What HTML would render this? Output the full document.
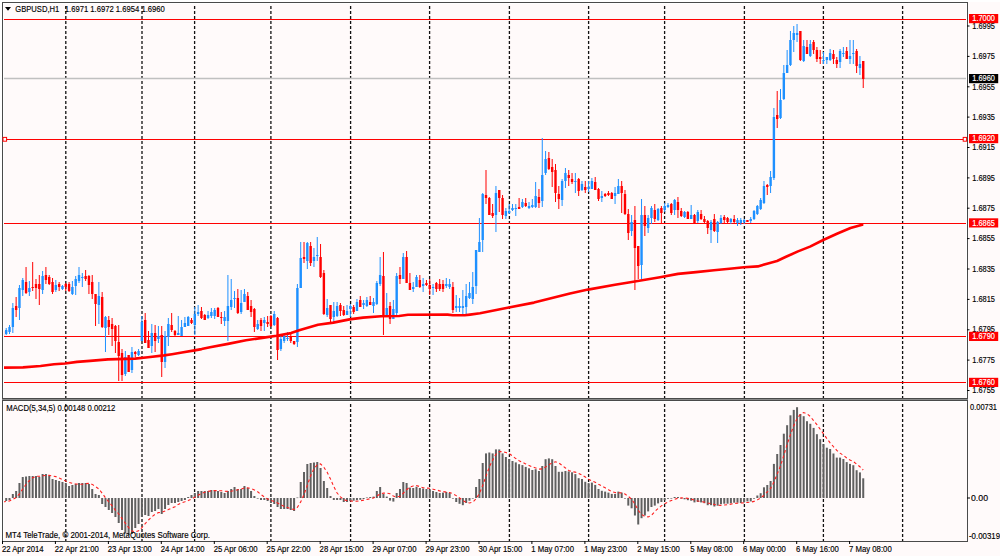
<!DOCTYPE html><html><head><meta charset="utf-8"><style>
html,body{margin:0;padding:0;width:1000px;height:556px;overflow:hidden;background:#fff}
svg{display:block}
text{font-family:"Liberation Sans",sans-serif;font-size:8.5px;fill:#000;stroke:#000;stroke-width:0.15}
.w{fill:#fff;stroke:#fff}
</style></head><body>
<svg width="1000" height="556" viewBox="0 0 1000 556">
<rect x="0" y="0" width="1000" height="556" fill="#FFFFFF"/>
<rect x="2" y="2" width="965" height="396" fill="#FFFAFA"/>
<rect x="2" y="400" width="965" height="141" fill="#FFFAFA"/>
<rect x="968" y="2" width="32" height="554" fill="#FFFAFA"/>
<rect x="0" y="542" width="1000" height="14" fill="#FFFAFA"/>
<defs><clipPath id="cm"><rect x="3" y="3" width="964" height="395"/></clipPath>
<clipPath id="cd"><rect x="3" y="401" width="964" height="140"/></clipPath></defs>
<g clip-path="url(#cm)">
<line x1="65.8" y1="1" x2="65.8" y2="398" stroke="#111" stroke-width="1.3" stroke-dasharray="3 2"/>
<line x1="142" y1="1" x2="142" y2="398" stroke="#111" stroke-width="1.3" stroke-dasharray="3 2"/>
<line x1="194.6" y1="1" x2="194.6" y2="398" stroke="#111" stroke-width="1.3" stroke-dasharray="3 2"/>
<line x1="270.9" y1="1" x2="270.9" y2="398" stroke="#111" stroke-width="1.3" stroke-dasharray="3 2"/>
<line x1="350.6" y1="1" x2="350.6" y2="398" stroke="#111" stroke-width="1.3" stroke-dasharray="3 2"/>
<line x1="429.6" y1="1" x2="429.6" y2="398" stroke="#111" stroke-width="1.3" stroke-dasharray="3 2"/>
<line x1="509.4" y1="1" x2="509.4" y2="398" stroke="#111" stroke-width="1.3" stroke-dasharray="3 2"/>
<line x1="588.6" y1="1" x2="588.6" y2="398" stroke="#111" stroke-width="1.3" stroke-dasharray="3 2"/>
<line x1="664.6" y1="1" x2="664.6" y2="398" stroke="#111" stroke-width="1.3" stroke-dasharray="3 2"/>
<line x1="744.4" y1="1" x2="744.4" y2="398" stroke="#111" stroke-width="1.3" stroke-dasharray="3 2"/>
<line x1="823.4" y1="1" x2="823.4" y2="398" stroke="#111" stroke-width="1.3" stroke-dasharray="3 2"/>
<line x1="902.6" y1="1" x2="902.6" y2="398" stroke="#111" stroke-width="1.3" stroke-dasharray="3 2"/>
</g><g clip-path="url(#cd)">
<line x1="65.8" y1="399" x2="65.8" y2="541" stroke="#111" stroke-width="1.3" stroke-dasharray="3 2"/>
<line x1="142" y1="399" x2="142" y2="541" stroke="#111" stroke-width="1.3" stroke-dasharray="3 2"/>
<line x1="194.6" y1="399" x2="194.6" y2="541" stroke="#111" stroke-width="1.3" stroke-dasharray="3 2"/>
<line x1="270.9" y1="399" x2="270.9" y2="541" stroke="#111" stroke-width="1.3" stroke-dasharray="3 2"/>
<line x1="350.6" y1="399" x2="350.6" y2="541" stroke="#111" stroke-width="1.3" stroke-dasharray="3 2"/>
<line x1="429.6" y1="399" x2="429.6" y2="541" stroke="#111" stroke-width="1.3" stroke-dasharray="3 2"/>
<line x1="509.4" y1="399" x2="509.4" y2="541" stroke="#111" stroke-width="1.3" stroke-dasharray="3 2"/>
<line x1="588.6" y1="399" x2="588.6" y2="541" stroke="#111" stroke-width="1.3" stroke-dasharray="3 2"/>
<line x1="664.6" y1="399" x2="664.6" y2="541" stroke="#111" stroke-width="1.3" stroke-dasharray="3 2"/>
<line x1="744.4" y1="399" x2="744.4" y2="541" stroke="#111" stroke-width="1.3" stroke-dasharray="3 2"/>
<line x1="823.4" y1="399" x2="823.4" y2="541" stroke="#111" stroke-width="1.3" stroke-dasharray="3 2"/>
<line x1="902.6" y1="399" x2="902.6" y2="541" stroke="#111" stroke-width="1.3" stroke-dasharray="3 2"/>
</g>
<line x1="3" y1="19.5" x2="967" y2="19.5" stroke="#FF0000" stroke-width="1"/>
<line x1="3" y1="139.5" x2="967" y2="139.5" stroke="#FF0000" stroke-width="1"/>
<line x1="3" y1="223.5" x2="967" y2="223.5" stroke="#FF0000" stroke-width="1"/>
<line x1="3" y1="336.5" x2="967" y2="336.5" stroke="#FF0000" stroke-width="1"/>
<line x1="3" y1="382.5" x2="967" y2="382.5" stroke="#FF0000" stroke-width="1"/>
<line x1="3" y1="78.5" x2="967" y2="78.5" stroke="#C0C0C0" stroke-width="1.3"/>
<g clip-path="url(#cm)">
<line x1="2.90" y1="329.0" x2="2.90" y2="337.0" stroke="#FF0000" stroke-width="1"/>
<rect x="1.70" y="331.0" width="2.4" height="5.0" fill="#FF0000"/>
<line x1="6.21" y1="328.0" x2="6.21" y2="335.0" stroke="#1E90FF" stroke-width="1"/>
<rect x="5.01" y="330.0" width="2.4" height="4.0" fill="#1E90FF"/>
<line x1="9.52" y1="325.0" x2="9.52" y2="334.0" stroke="#1E90FF" stroke-width="1"/>
<rect x="8.32" y="327.0" width="2.4" height="5.0" fill="#1E90FF"/>
<line x1="12.83" y1="303.0" x2="12.83" y2="333.0" stroke="#1E90FF" stroke-width="1"/>
<rect x="11.63" y="308.0" width="2.4" height="19.0" fill="#1E90FF"/>
<line x1="16.14" y1="297.0" x2="16.14" y2="317.0" stroke="#FF0000" stroke-width="1"/>
<rect x="14.94" y="306.0" width="2.4" height="4.0" fill="#FF0000"/>
<line x1="19.45" y1="285.0" x2="19.45" y2="320.0" stroke="#1E90FF" stroke-width="1"/>
<rect x="18.25" y="288.0" width="2.4" height="20.0" fill="#1E90FF"/>
<line x1="22.75" y1="278.0" x2="22.75" y2="296.0" stroke="#1E90FF" stroke-width="1"/>
<rect x="21.55" y="280.0" width="2.4" height="10.0" fill="#1E90FF"/>
<line x1="26.06" y1="267.0" x2="26.06" y2="294.0" stroke="#FF0000" stroke-width="1"/>
<rect x="24.86" y="282.0" width="2.4" height="11.0" fill="#FF0000"/>
<line x1="29.37" y1="281.0" x2="29.37" y2="296.0" stroke="#1E90FF" stroke-width="1"/>
<rect x="28.17" y="288.0" width="2.4" height="4.0" fill="#1E90FF"/>
<line x1="32.68" y1="262.0" x2="32.68" y2="291.0" stroke="#FF0000" stroke-width="1"/>
<rect x="31.48" y="287.0" width="2.4" height="1.0" fill="#FF0000"/>
<line x1="35.99" y1="279.0" x2="35.99" y2="299.0" stroke="#FF0000" stroke-width="1"/>
<rect x="34.79" y="284.0" width="2.4" height="4.0" fill="#FF0000"/>
<line x1="39.30" y1="275.0" x2="39.30" y2="305.0" stroke="#FF0000" stroke-width="1"/>
<rect x="38.10" y="284.0" width="2.4" height="5.0" fill="#FF0000"/>
<line x1="42.61" y1="271.0" x2="42.61" y2="294.0" stroke="#1E90FF" stroke-width="1"/>
<rect x="41.41" y="276.0" width="2.4" height="14.0" fill="#1E90FF"/>
<line x1="45.92" y1="267.0" x2="45.92" y2="284.0" stroke="#FF0000" stroke-width="1"/>
<rect x="44.72" y="275.0" width="2.4" height="5.0" fill="#FF0000"/>
<line x1="49.23" y1="275.0" x2="49.23" y2="285.0" stroke="#FF0000" stroke-width="1"/>
<rect x="48.03" y="277.0" width="2.4" height="7.0" fill="#FF0000"/>
<line x1="52.54" y1="278.0" x2="52.54" y2="294.0" stroke="#FF0000" stroke-width="1"/>
<rect x="51.34" y="282.0" width="2.4" height="10.0" fill="#FF0000"/>
<line x1="55.84" y1="280.0" x2="55.84" y2="292.0" stroke="#1E90FF" stroke-width="1"/>
<rect x="54.64" y="285.0" width="2.4" height="5.0" fill="#1E90FF"/>
<line x1="59.15" y1="282.0" x2="59.15" y2="291.0" stroke="#FF0000" stroke-width="1"/>
<rect x="57.95" y="284.0" width="2.4" height="3.0" fill="#FF0000"/>
<line x1="62.46" y1="285.0" x2="62.46" y2="290.0" stroke="#1E90FF" stroke-width="1"/>
<rect x="61.26" y="286.0" width="2.4" height="3.0" fill="#1E90FF"/>
<line x1="65.77" y1="283.0" x2="65.77" y2="291.0" stroke="#FF0000" stroke-width="1"/>
<rect x="64.57" y="284.0" width="2.4" height="3.0" fill="#FF0000"/>
<line x1="69.08" y1="282.0" x2="69.08" y2="292.0" stroke="#FF0000" stroke-width="1"/>
<rect x="67.88" y="284.0" width="2.4" height="7.0" fill="#FF0000"/>
<line x1="72.39" y1="281.0" x2="72.39" y2="295.0" stroke="#1E90FF" stroke-width="1"/>
<rect x="71.19" y="287.0" width="2.4" height="7.0" fill="#1E90FF"/>
<line x1="75.70" y1="276.0" x2="75.70" y2="295.0" stroke="#1E90FF" stroke-width="1"/>
<rect x="74.50" y="279.0" width="2.4" height="7.0" fill="#1E90FF"/>
<line x1="79.01" y1="267.0" x2="79.01" y2="283.0" stroke="#1E90FF" stroke-width="1"/>
<rect x="77.81" y="275.0" width="2.4" height="6.0" fill="#1E90FF"/>
<line x1="82.32" y1="273.0" x2="82.32" y2="287.0" stroke="#1E90FF" stroke-width="1"/>
<rect x="81.12" y="277.0" width="2.4" height="1.0" fill="#1E90FF"/>
<line x1="85.63" y1="270.0" x2="85.63" y2="281.0" stroke="#FF0000" stroke-width="1"/>
<rect x="84.43" y="276.0" width="2.4" height="3.0" fill="#FF0000"/>
<line x1="88.93" y1="275.0" x2="88.93" y2="294.0" stroke="#FF0000" stroke-width="1"/>
<rect x="87.73" y="276.0" width="2.4" height="9.0" fill="#FF0000"/>
<line x1="92.24" y1="275.0" x2="92.24" y2="299.0" stroke="#FF0000" stroke-width="1"/>
<rect x="91.04" y="282.0" width="2.4" height="12.0" fill="#FF0000"/>
<line x1="95.55" y1="294.0" x2="95.55" y2="326.0" stroke="#FF0000" stroke-width="1"/>
<rect x="94.35" y="294.0" width="2.4" height="10.0" fill="#FF0000"/>
<line x1="98.86" y1="282.0" x2="98.86" y2="324.0" stroke="#1E90FF" stroke-width="1"/>
<rect x="97.66" y="296.0" width="2.4" height="9.0" fill="#1E90FF"/>
<line x1="102.17" y1="292.0" x2="102.17" y2="328.0" stroke="#FF0000" stroke-width="1"/>
<rect x="100.97" y="297.0" width="2.4" height="30.0" fill="#FF0000"/>
<line x1="105.48" y1="316.0" x2="105.48" y2="352.0" stroke="#1E90FF" stroke-width="1"/>
<rect x="104.28" y="317.0" width="2.4" height="11.0" fill="#1E90FF"/>
<line x1="108.79" y1="316.0" x2="108.79" y2="335.0" stroke="#FF0000" stroke-width="1"/>
<rect x="107.59" y="320.0" width="2.4" height="7.0" fill="#FF0000"/>
<line x1="112.10" y1="318.0" x2="112.10" y2="346.0" stroke="#FF0000" stroke-width="1"/>
<rect x="110.90" y="324.0" width="2.4" height="5.0" fill="#FF0000"/>
<line x1="115.41" y1="325.0" x2="115.41" y2="353.0" stroke="#FF0000" stroke-width="1"/>
<rect x="114.21" y="326.0" width="2.4" height="15.0" fill="#FF0000"/>
<line x1="118.72" y1="325.0" x2="118.72" y2="381.0" stroke="#FF0000" stroke-width="1"/>
<rect x="117.52" y="342.0" width="2.4" height="14.0" fill="#FF0000"/>
<line x1="122.02" y1="349.0" x2="122.02" y2="381.0" stroke="#FF0000" stroke-width="1"/>
<rect x="120.82" y="353.0" width="2.4" height="22.0" fill="#FF0000"/>
<line x1="125.33" y1="351.0" x2="125.33" y2="376.0" stroke="#1E90FF" stroke-width="1"/>
<rect x="124.13" y="357.0" width="2.4" height="17.0" fill="#1E90FF"/>
<line x1="128.64" y1="355.0" x2="128.64" y2="372.0" stroke="#FF0000" stroke-width="1"/>
<rect x="127.44" y="355.0" width="2.4" height="17.0" fill="#FF0000"/>
<line x1="131.95" y1="347.0" x2="131.95" y2="373.0" stroke="#1E90FF" stroke-width="1"/>
<rect x="130.75" y="352.0" width="2.4" height="18.0" fill="#1E90FF"/>
<line x1="135.26" y1="351.0" x2="135.26" y2="357.0" stroke="#FF0000" stroke-width="1"/>
<rect x="134.06" y="352.0" width="2.4" height="2.0" fill="#FF0000"/>
<line x1="138.57" y1="349.0" x2="138.57" y2="356.0" stroke="#1E90FF" stroke-width="1"/>
<rect x="137.37" y="351.0" width="2.4" height="4.0" fill="#1E90FF"/>
<line x1="141.88" y1="316.0" x2="141.88" y2="341.0" stroke="#1E90FF" stroke-width="1"/>
<rect x="140.68" y="322.0" width="2.4" height="19.0" fill="#1E90FF"/>
<line x1="145.19" y1="313.0" x2="145.19" y2="343.0" stroke="#FF0000" stroke-width="1"/>
<rect x="143.99" y="320.0" width="2.4" height="23.0" fill="#FF0000"/>
<line x1="148.50" y1="331.0" x2="148.50" y2="348.0" stroke="#FF0000" stroke-width="1"/>
<rect x="147.30" y="340.0" width="2.4" height="8.0" fill="#FF0000"/>
<line x1="151.81" y1="324.0" x2="151.81" y2="353.0" stroke="#1E90FF" stroke-width="1"/>
<rect x="150.61" y="333.0" width="2.4" height="13.0" fill="#1E90FF"/>
<line x1="155.11" y1="325.0" x2="155.11" y2="352.0" stroke="#FF0000" stroke-width="1"/>
<rect x="153.91" y="333.0" width="2.4" height="8.0" fill="#FF0000"/>
<line x1="158.42" y1="326.0" x2="158.42" y2="343.0" stroke="#1E90FF" stroke-width="1"/>
<rect x="157.22" y="336.0" width="2.4" height="3.0" fill="#1E90FF"/>
<line x1="161.73" y1="326.0" x2="161.73" y2="377.0" stroke="#FF0000" stroke-width="1"/>
<rect x="160.53" y="335.0" width="2.4" height="27.0" fill="#FF0000"/>
<line x1="165.04" y1="331.0" x2="165.04" y2="368.0" stroke="#1E90FF" stroke-width="1"/>
<rect x="163.84" y="336.0" width="2.4" height="26.0" fill="#1E90FF"/>
<line x1="168.35" y1="318.0" x2="168.35" y2="346.0" stroke="#1E90FF" stroke-width="1"/>
<rect x="167.15" y="324.0" width="2.4" height="13.0" fill="#1E90FF"/>
<line x1="171.66" y1="313.0" x2="171.66" y2="332.0" stroke="#FF0000" stroke-width="1"/>
<rect x="170.46" y="325.0" width="2.4" height="5.0" fill="#FF0000"/>
<line x1="174.97" y1="330.0" x2="174.97" y2="336.0" stroke="#FF0000" stroke-width="1"/>
<rect x="173.77" y="331.0" width="2.4" height="4.0" fill="#FF0000"/>
<line x1="178.28" y1="316.0" x2="178.28" y2="335.0" stroke="#1E90FF" stroke-width="1"/>
<rect x="177.08" y="333.0" width="2.4" height="2.0" fill="#1E90FF"/>
<line x1="181.59" y1="320.0" x2="181.59" y2="336.0" stroke="#1E90FF" stroke-width="1"/>
<rect x="180.39" y="327.0" width="2.4" height="9.0" fill="#1E90FF"/>
<line x1="184.90" y1="317.0" x2="184.90" y2="327.0" stroke="#1E90FF" stroke-width="1"/>
<rect x="183.70" y="323.0" width="2.4" height="4.0" fill="#1E90FF"/>
<line x1="188.20" y1="316.0" x2="188.20" y2="326.0" stroke="#1E90FF" stroke-width="1"/>
<rect x="187.00" y="317.0" width="2.4" height="9.0" fill="#1E90FF"/>
<line x1="191.51" y1="318.0" x2="191.51" y2="324.0" stroke="#FF0000" stroke-width="1"/>
<rect x="190.31" y="320.0" width="2.4" height="3.0" fill="#FF0000"/>
<line x1="194.82" y1="307.0" x2="194.82" y2="335.0" stroke="#1E90FF" stroke-width="1"/>
<rect x="193.62" y="314.0" width="2.4" height="11.0" fill="#1E90FF"/>
<line x1="198.13" y1="305.0" x2="198.13" y2="316.0" stroke="#1E90FF" stroke-width="1"/>
<rect x="196.93" y="312.0" width="2.4" height="2.0" fill="#1E90FF"/>
<line x1="201.44" y1="307.0" x2="201.44" y2="319.0" stroke="#FF0000" stroke-width="1"/>
<rect x="200.24" y="311.0" width="2.4" height="7.0" fill="#FF0000"/>
<line x1="204.75" y1="314.0" x2="204.75" y2="320.0" stroke="#FF0000" stroke-width="1"/>
<rect x="203.55" y="315.0" width="2.4" height="5.0" fill="#FF0000"/>
<line x1="208.06" y1="311.0" x2="208.06" y2="319.0" stroke="#1E90FF" stroke-width="1"/>
<rect x="206.86" y="315.0" width="2.4" height="3.0" fill="#1E90FF"/>
<line x1="211.37" y1="308.0" x2="211.37" y2="318.0" stroke="#1E90FF" stroke-width="1"/>
<rect x="210.17" y="312.0" width="2.4" height="4.0" fill="#1E90FF"/>
<line x1="214.68" y1="308.0" x2="214.68" y2="319.0" stroke="#1E90FF" stroke-width="1"/>
<rect x="213.48" y="310.0" width="2.4" height="6.0" fill="#1E90FF"/>
<line x1="217.99" y1="307.0" x2="217.99" y2="317.0" stroke="#FF0000" stroke-width="1"/>
<rect x="216.79" y="308.0" width="2.4" height="9.0" fill="#FF0000"/>
<line x1="221.29" y1="312.0" x2="221.29" y2="324.0" stroke="#FF0000" stroke-width="1"/>
<rect x="220.09" y="317.0" width="2.4" height="1.0" fill="#FF0000"/>
<line x1="224.60" y1="311.0" x2="224.60" y2="326.0" stroke="#1E90FF" stroke-width="1"/>
<rect x="223.40" y="317.0" width="2.4" height="4.0" fill="#1E90FF"/>
<line x1="227.91" y1="275.0" x2="227.91" y2="341.0" stroke="#1E90FF" stroke-width="1"/>
<rect x="226.71" y="306.0" width="2.4" height="15.0" fill="#1E90FF"/>
<line x1="231.22" y1="279.0" x2="231.22" y2="310.0" stroke="#1E90FF" stroke-width="1"/>
<rect x="230.02" y="300.0" width="2.4" height="7.0" fill="#1E90FF"/>
<line x1="234.53" y1="291.0" x2="234.53" y2="308.0" stroke="#1E90FF" stroke-width="1"/>
<rect x="233.33" y="298.0" width="2.4" height="1.0" fill="#1E90FF"/>
<line x1="237.84" y1="289.0" x2="237.84" y2="314.0" stroke="#FF0000" stroke-width="1"/>
<rect x="236.64" y="298.0" width="2.4" height="15.0" fill="#FF0000"/>
<line x1="241.15" y1="290.0" x2="241.15" y2="314.0" stroke="#1E90FF" stroke-width="1"/>
<rect x="239.95" y="303.0" width="2.4" height="9.0" fill="#1E90FF"/>
<line x1="244.46" y1="289.0" x2="244.46" y2="302.0" stroke="#1E90FF" stroke-width="1"/>
<rect x="243.26" y="294.0" width="2.4" height="8.0" fill="#1E90FF"/>
<line x1="247.77" y1="292.0" x2="247.77" y2="310.0" stroke="#FF0000" stroke-width="1"/>
<rect x="246.57" y="296.0" width="2.4" height="14.0" fill="#FF0000"/>
<line x1="251.08" y1="300.0" x2="251.08" y2="317.0" stroke="#FF0000" stroke-width="1"/>
<rect x="249.88" y="306.0" width="2.4" height="6.0" fill="#FF0000"/>
<line x1="254.38" y1="308.0" x2="254.38" y2="332.0" stroke="#FF0000" stroke-width="1"/>
<rect x="253.18" y="309.0" width="2.4" height="18.0" fill="#FF0000"/>
<line x1="257.69" y1="320.0" x2="257.69" y2="330.0" stroke="#1E90FF" stroke-width="1"/>
<rect x="256.49" y="324.0" width="2.4" height="5.0" fill="#1E90FF"/>
<line x1="261.00" y1="318.0" x2="261.00" y2="331.0" stroke="#FF0000" stroke-width="1"/>
<rect x="259.80" y="320.0" width="2.4" height="6.0" fill="#FF0000"/>
<line x1="264.31" y1="317.0" x2="264.31" y2="331.0" stroke="#1E90FF" stroke-width="1"/>
<rect x="263.11" y="320.0" width="2.4" height="3.0" fill="#1E90FF"/>
<line x1="267.62" y1="316.0" x2="267.62" y2="327.0" stroke="#FF0000" stroke-width="1"/>
<rect x="266.42" y="322.0" width="2.4" height="2.0" fill="#FF0000"/>
<line x1="270.93" y1="315.0" x2="270.93" y2="327.0" stroke="#FF0000" stroke-width="1"/>
<rect x="269.73" y="316.0" width="2.4" height="10.0" fill="#FF0000"/>
<line x1="274.24" y1="311.0" x2="274.24" y2="326.0" stroke="#1E90FF" stroke-width="1"/>
<rect x="273.04" y="314.0" width="2.4" height="11.0" fill="#1E90FF"/>
<line x1="277.55" y1="317.0" x2="277.55" y2="360.0" stroke="#FF0000" stroke-width="1"/>
<rect x="276.35" y="318.0" width="2.4" height="32.0" fill="#FF0000"/>
<line x1="280.86" y1="335.0" x2="280.86" y2="351.0" stroke="#1E90FF" stroke-width="1"/>
<rect x="279.66" y="339.0" width="2.4" height="10.0" fill="#1E90FF"/>
<line x1="284.16" y1="335.0" x2="284.16" y2="343.0" stroke="#1E90FF" stroke-width="1"/>
<rect x="282.96" y="336.0" width="2.4" height="5.0" fill="#1E90FF"/>
<line x1="287.47" y1="332.0" x2="287.47" y2="341.0" stroke="#1E90FF" stroke-width="1"/>
<rect x="286.27" y="338.0" width="2.4" height="1.0" fill="#1E90FF"/>
<line x1="290.78" y1="334.0" x2="290.78" y2="343.0" stroke="#FF0000" stroke-width="1"/>
<rect x="289.58" y="336.0" width="2.4" height="5.0" fill="#FF0000"/>
<line x1="294.09" y1="341.0" x2="294.09" y2="345.0" stroke="#FF0000" stroke-width="1"/>
<rect x="292.89" y="341.0" width="2.4" height="3.0" fill="#FF0000"/>
<line x1="297.40" y1="284.0" x2="297.40" y2="347.0" stroke="#1E90FF" stroke-width="1"/>
<rect x="296.20" y="288.0" width="2.4" height="54.0" fill="#1E90FF"/>
<line x1="300.71" y1="242.0" x2="300.71" y2="288.0" stroke="#1E90FF" stroke-width="1"/>
<rect x="299.51" y="258.0" width="2.4" height="30.0" fill="#1E90FF"/>
<line x1="304.02" y1="242.0" x2="304.02" y2="263.0" stroke="#FF0000" stroke-width="1"/>
<rect x="302.82" y="257.0" width="2.4" height="2.0" fill="#FF0000"/>
<line x1="307.33" y1="242.0" x2="307.33" y2="269.0" stroke="#1E90FF" stroke-width="1"/>
<rect x="306.13" y="243.0" width="2.4" height="18.0" fill="#1E90FF"/>
<line x1="310.64" y1="242.0" x2="310.64" y2="266.0" stroke="#FF0000" stroke-width="1"/>
<rect x="309.44" y="246.0" width="2.4" height="17.0" fill="#FF0000"/>
<line x1="313.95" y1="248.0" x2="313.95" y2="267.0" stroke="#1E90FF" stroke-width="1"/>
<rect x="312.75" y="257.0" width="2.4" height="4.0" fill="#1E90FF"/>
<line x1="317.25" y1="237.0" x2="317.25" y2="261.0" stroke="#1E90FF" stroke-width="1"/>
<rect x="316.06" y="255.0" width="2.4" height="1.0" fill="#1E90FF"/>
<line x1="320.56" y1="244.0" x2="320.56" y2="278.0" stroke="#FF0000" stroke-width="1"/>
<rect x="319.36" y="257.0" width="2.4" height="20.0" fill="#FF0000"/>
<line x1="323.87" y1="270.0" x2="323.87" y2="315.0" stroke="#FF0000" stroke-width="1"/>
<rect x="322.67" y="273.0" width="2.4" height="41.0" fill="#FF0000"/>
<line x1="327.18" y1="299.0" x2="327.18" y2="317.0" stroke="#1E90FF" stroke-width="1"/>
<rect x="325.98" y="308.0" width="2.4" height="7.0" fill="#1E90FF"/>
<line x1="330.49" y1="305.0" x2="330.49" y2="322.0" stroke="#FF0000" stroke-width="1"/>
<rect x="329.29" y="305.0" width="2.4" height="14.0" fill="#FF0000"/>
<line x1="333.80" y1="302.0" x2="333.80" y2="322.0" stroke="#1E90FF" stroke-width="1"/>
<rect x="332.60" y="311.0" width="2.4" height="6.0" fill="#1E90FF"/>
<line x1="337.11" y1="302.0" x2="337.11" y2="317.0" stroke="#1E90FF" stroke-width="1"/>
<rect x="335.91" y="306.0" width="2.4" height="10.0" fill="#1E90FF"/>
<line x1="340.42" y1="303.0" x2="340.42" y2="316.0" stroke="#FF0000" stroke-width="1"/>
<rect x="339.22" y="305.0" width="2.4" height="6.0" fill="#FF0000"/>
<line x1="343.73" y1="306.0" x2="343.73" y2="316.0" stroke="#FF0000" stroke-width="1"/>
<rect x="342.53" y="310.0" width="2.4" height="5.0" fill="#FF0000"/>
<line x1="347.04" y1="305.0" x2="347.04" y2="315.0" stroke="#1E90FF" stroke-width="1"/>
<rect x="345.84" y="311.0" width="2.4" height="4.0" fill="#1E90FF"/>
<line x1="350.34" y1="304.0" x2="350.34" y2="317.0" stroke="#1E90FF" stroke-width="1"/>
<rect x="349.14" y="306.0" width="2.4" height="3.0" fill="#1E90FF"/>
<line x1="353.65" y1="305.0" x2="353.65" y2="314.0" stroke="#FF0000" stroke-width="1"/>
<rect x="352.45" y="307.0" width="2.4" height="5.0" fill="#FF0000"/>
<line x1="356.96" y1="299.0" x2="356.96" y2="311.0" stroke="#1E90FF" stroke-width="1"/>
<rect x="355.76" y="302.0" width="2.4" height="9.0" fill="#1E90FF"/>
<line x1="360.27" y1="296.0" x2="360.27" y2="307.0" stroke="#FF0000" stroke-width="1"/>
<rect x="359.07" y="300.0" width="2.4" height="7.0" fill="#FF0000"/>
<line x1="363.58" y1="300.0" x2="363.58" y2="309.0" stroke="#1E90FF" stroke-width="1"/>
<rect x="362.38" y="303.0" width="2.4" height="2.0" fill="#1E90FF"/>
<line x1="366.89" y1="297.0" x2="366.89" y2="307.0" stroke="#1E90FF" stroke-width="1"/>
<rect x="365.69" y="300.0" width="2.4" height="6.0" fill="#1E90FF"/>
<line x1="370.20" y1="296.0" x2="370.20" y2="305.0" stroke="#FF0000" stroke-width="1"/>
<rect x="369.00" y="302.0" width="2.4" height="3.0" fill="#FF0000"/>
<line x1="373.51" y1="298.0" x2="373.51" y2="313.0" stroke="#1E90FF" stroke-width="1"/>
<rect x="372.31" y="302.0" width="2.4" height="4.0" fill="#1E90FF"/>
<line x1="376.82" y1="281.0" x2="376.82" y2="305.0" stroke="#1E90FF" stroke-width="1"/>
<rect x="375.62" y="283.0" width="2.4" height="21.0" fill="#1E90FF"/>
<line x1="380.13" y1="257.0" x2="380.13" y2="286.0" stroke="#1E90FF" stroke-width="1"/>
<rect x="378.93" y="275.0" width="2.4" height="9.0" fill="#1E90FF"/>
<line x1="383.44" y1="252.0" x2="383.44" y2="335.0" stroke="#FF0000" stroke-width="1"/>
<rect x="382.24" y="276.0" width="2.4" height="40.0" fill="#FF0000"/>
<line x1="386.74" y1="293.0" x2="386.74" y2="316.0" stroke="#1E90FF" stroke-width="1"/>
<rect x="385.54" y="308.0" width="2.4" height="8.0" fill="#1E90FF"/>
<line x1="390.05" y1="302.0" x2="390.05" y2="324.0" stroke="#FF0000" stroke-width="1"/>
<rect x="388.85" y="306.0" width="2.4" height="13.0" fill="#FF0000"/>
<line x1="393.36" y1="300.0" x2="393.36" y2="319.0" stroke="#1E90FF" stroke-width="1"/>
<rect x="392.16" y="309.0" width="2.4" height="10.0" fill="#1E90FF"/>
<line x1="396.67" y1="273.0" x2="396.67" y2="316.0" stroke="#1E90FF" stroke-width="1"/>
<rect x="395.47" y="276.0" width="2.4" height="37.0" fill="#1E90FF"/>
<line x1="399.98" y1="267.0" x2="399.98" y2="284.0" stroke="#FF0000" stroke-width="1"/>
<rect x="398.78" y="275.0" width="2.4" height="4.0" fill="#FF0000"/>
<line x1="403.29" y1="253.0" x2="403.29" y2="279.0" stroke="#1E90FF" stroke-width="1"/>
<rect x="402.09" y="257.0" width="2.4" height="22.0" fill="#1E90FF"/>
<line x1="406.60" y1="251.0" x2="406.60" y2="283.0" stroke="#FF0000" stroke-width="1"/>
<rect x="405.40" y="257.0" width="2.4" height="26.0" fill="#FF0000"/>
<line x1="409.91" y1="273.0" x2="409.91" y2="290.0" stroke="#FF0000" stroke-width="1"/>
<rect x="408.71" y="283.0" width="2.4" height="7.0" fill="#FF0000"/>
<line x1="413.22" y1="282.0" x2="413.22" y2="292.0" stroke="#1E90FF" stroke-width="1"/>
<rect x="412.02" y="287.0" width="2.4" height="2.0" fill="#1E90FF"/>
<line x1="416.52" y1="275.0" x2="416.52" y2="287.0" stroke="#1E90FF" stroke-width="1"/>
<rect x="415.32" y="277.0" width="2.4" height="10.0" fill="#1E90FF"/>
<line x1="419.83" y1="275.0" x2="419.83" y2="288.0" stroke="#FF0000" stroke-width="1"/>
<rect x="418.63" y="280.0" width="2.4" height="7.0" fill="#FF0000"/>
<line x1="423.14" y1="278.0" x2="423.14" y2="292.0" stroke="#1E90FF" stroke-width="1"/>
<rect x="421.94" y="284.0" width="2.4" height="2.0" fill="#1E90FF"/>
<line x1="426.45" y1="280.0" x2="426.45" y2="286.0" stroke="#FF0000" stroke-width="1"/>
<rect x="425.25" y="283.0" width="2.4" height="2.0" fill="#FF0000"/>
<line x1="429.76" y1="279.0" x2="429.76" y2="295.0" stroke="#FF0000" stroke-width="1"/>
<rect x="428.56" y="285.0" width="2.4" height="4.0" fill="#FF0000"/>
<line x1="433.07" y1="284.0" x2="433.07" y2="295.0" stroke="#1E90FF" stroke-width="1"/>
<rect x="431.87" y="287.0" width="2.4" height="1.0" fill="#1E90FF"/>
<line x1="436.38" y1="282.0" x2="436.38" y2="292.0" stroke="#FF0000" stroke-width="1"/>
<rect x="435.18" y="283.0" width="2.4" height="6.0" fill="#FF0000"/>
<line x1="439.69" y1="279.0" x2="439.69" y2="291.0" stroke="#FF0000" stroke-width="1"/>
<rect x="438.49" y="284.0" width="2.4" height="5.0" fill="#FF0000"/>
<line x1="443.00" y1="280.0" x2="443.00" y2="292.0" stroke="#FF0000" stroke-width="1"/>
<rect x="441.80" y="284.0" width="2.4" height="5.0" fill="#FF0000"/>
<line x1="446.31" y1="278.0" x2="446.31" y2="288.0" stroke="#1E90FF" stroke-width="1"/>
<rect x="445.11" y="284.0" width="2.4" height="2.0" fill="#1E90FF"/>
<line x1="449.62" y1="279.0" x2="449.62" y2="289.0" stroke="#1E90FF" stroke-width="1"/>
<rect x="448.42" y="284.0" width="2.4" height="3.0" fill="#1E90FF"/>
<line x1="452.92" y1="282.0" x2="452.92" y2="313.0" stroke="#FF0000" stroke-width="1"/>
<rect x="451.72" y="287.0" width="2.4" height="23.0" fill="#FF0000"/>
<line x1="456.23" y1="295.0" x2="456.23" y2="312.0" stroke="#1E90FF" stroke-width="1"/>
<rect x="455.03" y="306.0" width="2.4" height="2.0" fill="#1E90FF"/>
<line x1="459.54" y1="298.0" x2="459.54" y2="312.0" stroke="#1E90FF" stroke-width="1"/>
<rect x="458.34" y="306.0" width="2.4" height="2.0" fill="#1E90FF"/>
<line x1="462.85" y1="290.0" x2="462.85" y2="314.0" stroke="#1E90FF" stroke-width="1"/>
<rect x="461.65" y="306.0" width="2.4" height="2.0" fill="#1E90FF"/>
<line x1="466.16" y1="284.0" x2="466.16" y2="316.0" stroke="#1E90FF" stroke-width="1"/>
<rect x="464.96" y="296.0" width="2.4" height="11.0" fill="#1E90FF"/>
<line x1="469.47" y1="282.0" x2="469.47" y2="299.0" stroke="#1E90FF" stroke-width="1"/>
<rect x="468.27" y="293.0" width="2.4" height="5.0" fill="#1E90FF"/>
<line x1="472.78" y1="272.0" x2="472.78" y2="304.0" stroke="#1E90FF" stroke-width="1"/>
<rect x="471.58" y="287.0" width="2.4" height="12.0" fill="#1E90FF"/>
<line x1="476.09" y1="250.0" x2="476.09" y2="294.0" stroke="#1E90FF" stroke-width="1"/>
<rect x="474.89" y="250.0" width="2.4" height="36.0" fill="#1E90FF"/>
<line x1="479.40" y1="218.0" x2="479.40" y2="252.0" stroke="#1E90FF" stroke-width="1"/>
<rect x="478.20" y="242.0" width="2.4" height="10.0" fill="#1E90FF"/>
<line x1="482.70" y1="193.0" x2="482.70" y2="252.0" stroke="#1E90FF" stroke-width="1"/>
<rect x="481.50" y="194.0" width="2.4" height="46.0" fill="#1E90FF"/>
<line x1="486.01" y1="170.0" x2="486.01" y2="204.0" stroke="#FF0000" stroke-width="1"/>
<rect x="484.81" y="195.0" width="2.4" height="3.0" fill="#FF0000"/>
<line x1="489.32" y1="197.0" x2="489.32" y2="215.0" stroke="#FF0000" stroke-width="1"/>
<rect x="488.12" y="198.0" width="2.4" height="17.0" fill="#FF0000"/>
<line x1="492.63" y1="204.0" x2="492.63" y2="218.0" stroke="#FF0000" stroke-width="1"/>
<rect x="491.43" y="213.0" width="2.4" height="3.0" fill="#FF0000"/>
<line x1="495.94" y1="186.0" x2="495.94" y2="232.0" stroke="#1E90FF" stroke-width="1"/>
<rect x="494.74" y="193.0" width="2.4" height="22.0" fill="#1E90FF"/>
<line x1="499.25" y1="190.0" x2="499.25" y2="212.0" stroke="#FF0000" stroke-width="1"/>
<rect x="498.05" y="190.0" width="2.4" height="8.0" fill="#FF0000"/>
<line x1="502.56" y1="195.0" x2="502.56" y2="219.0" stroke="#FF0000" stroke-width="1"/>
<rect x="501.36" y="198.0" width="2.4" height="17.0" fill="#FF0000"/>
<line x1="505.87" y1="208.0" x2="505.87" y2="219.0" stroke="#1E90FF" stroke-width="1"/>
<rect x="504.67" y="211.0" width="2.4" height="5.0" fill="#1E90FF"/>
<line x1="509.18" y1="204.0" x2="509.18" y2="214.0" stroke="#1E90FF" stroke-width="1"/>
<rect x="507.98" y="211.0" width="2.4" height="2.0" fill="#1E90FF"/>
<line x1="512.49" y1="204.0" x2="512.49" y2="211.0" stroke="#1E90FF" stroke-width="1"/>
<rect x="511.29" y="208.0" width="2.4" height="2.0" fill="#1E90FF"/>
<line x1="515.79" y1="204.0" x2="515.79" y2="216.0" stroke="#1E90FF" stroke-width="1"/>
<rect x="514.59" y="208.0" width="2.4" height="1.0" fill="#1E90FF"/>
<line x1="519.10" y1="198.0" x2="519.10" y2="209.0" stroke="#FF0000" stroke-width="1"/>
<rect x="517.90" y="207.0" width="2.4" height="2.0" fill="#FF0000"/>
<line x1="522.41" y1="199.0" x2="522.41" y2="208.0" stroke="#1E90FF" stroke-width="1"/>
<rect x="521.21" y="202.0" width="2.4" height="5.0" fill="#1E90FF"/>
<line x1="525.72" y1="198.0" x2="525.72" y2="207.0" stroke="#FF0000" stroke-width="1"/>
<rect x="524.52" y="203.0" width="2.4" height="3.0" fill="#FF0000"/>
<line x1="529.03" y1="202.0" x2="529.03" y2="209.0" stroke="#1E90FF" stroke-width="1"/>
<rect x="527.83" y="206.0" width="2.4" height="2.0" fill="#1E90FF"/>
<line x1="532.34" y1="199.0" x2="532.34" y2="208.0" stroke="#1E90FF" stroke-width="1"/>
<rect x="531.14" y="205.0" width="2.4" height="2.0" fill="#1E90FF"/>
<line x1="535.65" y1="182.0" x2="535.65" y2="208.0" stroke="#1E90FF" stroke-width="1"/>
<rect x="534.45" y="196.0" width="2.4" height="11.0" fill="#1E90FF"/>
<line x1="538.96" y1="189.0" x2="538.96" y2="208.0" stroke="#FF0000" stroke-width="1"/>
<rect x="537.76" y="197.0" width="2.4" height="6.0" fill="#FF0000"/>
<line x1="542.27" y1="138.0" x2="542.27" y2="207.0" stroke="#1E90FF" stroke-width="1"/>
<rect x="541.07" y="175.0" width="2.4" height="26.0" fill="#1E90FF"/>
<line x1="545.58" y1="151.0" x2="545.58" y2="175.0" stroke="#1E90FF" stroke-width="1"/>
<rect x="544.38" y="159.0" width="2.4" height="14.0" fill="#1E90FF"/>
<line x1="548.88" y1="152.0" x2="548.88" y2="170.0" stroke="#FF0000" stroke-width="1"/>
<rect x="547.68" y="158.0" width="2.4" height="11.0" fill="#FF0000"/>
<line x1="552.19" y1="159.0" x2="552.19" y2="187.0" stroke="#FF0000" stroke-width="1"/>
<rect x="550.99" y="167.0" width="2.4" height="5.0" fill="#FF0000"/>
<line x1="555.50" y1="164.0" x2="555.50" y2="202.0" stroke="#FF0000" stroke-width="1"/>
<rect x="554.30" y="170.0" width="2.4" height="23.0" fill="#FF0000"/>
<line x1="558.81" y1="186.0" x2="558.81" y2="209.0" stroke="#FF0000" stroke-width="1"/>
<rect x="557.61" y="194.0" width="2.4" height="5.0" fill="#FF0000"/>
<line x1="562.12" y1="179.0" x2="562.12" y2="206.0" stroke="#1E90FF" stroke-width="1"/>
<rect x="560.92" y="181.0" width="2.4" height="19.0" fill="#1E90FF"/>
<line x1="565.43" y1="168.0" x2="565.43" y2="188.0" stroke="#1E90FF" stroke-width="1"/>
<rect x="564.23" y="173.0" width="2.4" height="8.0" fill="#1E90FF"/>
<line x1="568.74" y1="170.0" x2="568.74" y2="186.0" stroke="#FF0000" stroke-width="1"/>
<rect x="567.54" y="175.0" width="2.4" height="3.0" fill="#FF0000"/>
<line x1="572.05" y1="173.0" x2="572.05" y2="184.0" stroke="#FF0000" stroke-width="1"/>
<rect x="570.85" y="179.0" width="2.4" height="3.0" fill="#FF0000"/>
<line x1="575.36" y1="173.0" x2="575.36" y2="193.0" stroke="#1E90FF" stroke-width="1"/>
<rect x="574.16" y="181.0" width="2.4" height="1.0" fill="#1E90FF"/>
<line x1="578.67" y1="178.0" x2="578.67" y2="196.0" stroke="#FF0000" stroke-width="1"/>
<rect x="577.47" y="179.0" width="2.4" height="12.0" fill="#FF0000"/>
<line x1="581.98" y1="181.0" x2="581.98" y2="191.0" stroke="#1E90FF" stroke-width="1"/>
<rect x="580.77" y="184.0" width="2.4" height="6.0" fill="#1E90FF"/>
<line x1="585.28" y1="181.0" x2="585.28" y2="193.0" stroke="#FF0000" stroke-width="1"/>
<rect x="584.08" y="187.0" width="2.4" height="3.0" fill="#FF0000"/>
<line x1="588.59" y1="181.0" x2="588.59" y2="192.0" stroke="#1E90FF" stroke-width="1"/>
<rect x="587.39" y="187.0" width="2.4" height="2.0" fill="#1E90FF"/>
<line x1="591.90" y1="178.0" x2="591.90" y2="189.0" stroke="#1E90FF" stroke-width="1"/>
<rect x="590.70" y="181.0" width="2.4" height="8.0" fill="#1E90FF"/>
<line x1="595.21" y1="177.0" x2="595.21" y2="190.0" stroke="#FF0000" stroke-width="1"/>
<rect x="594.01" y="182.0" width="2.4" height="8.0" fill="#FF0000"/>
<line x1="598.52" y1="188.0" x2="598.52" y2="201.0" stroke="#FF0000" stroke-width="1"/>
<rect x="597.32" y="189.0" width="2.4" height="10.0" fill="#FF0000"/>
<line x1="601.83" y1="191.0" x2="601.83" y2="202.0" stroke="#1E90FF" stroke-width="1"/>
<rect x="600.63" y="196.0" width="2.4" height="2.0" fill="#1E90FF"/>
<line x1="605.14" y1="193.0" x2="605.14" y2="197.0" stroke="#FF0000" stroke-width="1"/>
<rect x="603.94" y="194.0" width="2.4" height="2.0" fill="#FF0000"/>
<line x1="608.45" y1="191.0" x2="608.45" y2="196.0" stroke="#FF0000" stroke-width="1"/>
<rect x="607.25" y="193.0" width="2.4" height="2.0" fill="#FF0000"/>
<line x1="611.76" y1="192.0" x2="611.76" y2="199.0" stroke="#FF0000" stroke-width="1"/>
<rect x="610.56" y="193.0" width="2.4" height="6.0" fill="#FF0000"/>
<line x1="615.07" y1="187.0" x2="615.07" y2="204.0" stroke="#1E90FF" stroke-width="1"/>
<rect x="613.87" y="193.0" width="2.4" height="3.0" fill="#1E90FF"/>
<line x1="618.37" y1="179.0" x2="618.37" y2="194.0" stroke="#1E90FF" stroke-width="1"/>
<rect x="617.17" y="186.0" width="2.4" height="8.0" fill="#1E90FF"/>
<line x1="621.68" y1="181.0" x2="621.68" y2="213.0" stroke="#FF0000" stroke-width="1"/>
<rect x="620.48" y="186.0" width="2.4" height="7.0" fill="#FF0000"/>
<line x1="624.99" y1="190.0" x2="624.99" y2="215.0" stroke="#FF0000" stroke-width="1"/>
<rect x="623.79" y="194.0" width="2.4" height="20.0" fill="#FF0000"/>
<line x1="628.30" y1="209.0" x2="628.30" y2="240.0" stroke="#FF0000" stroke-width="1"/>
<rect x="627.10" y="214.0" width="2.4" height="19.0" fill="#FF0000"/>
<line x1="631.61" y1="215.0" x2="631.61" y2="236.0" stroke="#1E90FF" stroke-width="1"/>
<rect x="630.41" y="222.0" width="2.4" height="9.0" fill="#1E90FF"/>
<line x1="634.92" y1="206.0" x2="634.92" y2="290.0" stroke="#FF0000" stroke-width="1"/>
<rect x="633.72" y="220.0" width="2.4" height="28.0" fill="#FF0000"/>
<line x1="638.23" y1="246.0" x2="638.23" y2="279.0" stroke="#FF0000" stroke-width="1"/>
<rect x="637.03" y="246.0" width="2.4" height="20.0" fill="#FF0000"/>
<line x1="641.54" y1="199.0" x2="641.54" y2="279.0" stroke="#1E90FF" stroke-width="1"/>
<rect x="640.34" y="215.0" width="2.4" height="50.0" fill="#1E90FF"/>
<line x1="644.85" y1="206.0" x2="644.85" y2="236.0" stroke="#FF0000" stroke-width="1"/>
<rect x="643.65" y="215.0" width="2.4" height="11.0" fill="#FF0000"/>
<line x1="648.15" y1="215.0" x2="648.15" y2="233.0" stroke="#1E90FF" stroke-width="1"/>
<rect x="646.95" y="218.0" width="2.4" height="10.0" fill="#1E90FF"/>
<line x1="651.46" y1="206.0" x2="651.46" y2="224.0" stroke="#1E90FF" stroke-width="1"/>
<rect x="650.26" y="208.0" width="2.4" height="10.0" fill="#1E90FF"/>
<line x1="654.77" y1="204.0" x2="654.77" y2="222.0" stroke="#FF0000" stroke-width="1"/>
<rect x="653.57" y="210.0" width="2.4" height="9.0" fill="#FF0000"/>
<line x1="658.08" y1="208.0" x2="658.08" y2="221.0" stroke="#1E90FF" stroke-width="1"/>
<rect x="656.88" y="209.0" width="2.4" height="11.0" fill="#1E90FF"/>
<line x1="661.39" y1="206.0" x2="661.39" y2="224.0" stroke="#FF0000" stroke-width="1"/>
<rect x="660.19" y="208.0" width="2.4" height="5.0" fill="#FF0000"/>
<line x1="664.70" y1="203.0" x2="664.70" y2="212.0" stroke="#1E90FF" stroke-width="1"/>
<rect x="663.50" y="206.0" width="2.4" height="4.0" fill="#1E90FF"/>
<line x1="668.01" y1="203.0" x2="668.01" y2="208.0" stroke="#1E90FF" stroke-width="1"/>
<rect x="666.81" y="205.0" width="2.4" height="2.0" fill="#1E90FF"/>
<line x1="671.32" y1="203.0" x2="671.32" y2="215.0" stroke="#FF0000" stroke-width="1"/>
<rect x="670.12" y="204.0" width="2.4" height="9.0" fill="#FF0000"/>
<line x1="674.63" y1="199.0" x2="674.63" y2="215.0" stroke="#1E90FF" stroke-width="1"/>
<rect x="673.43" y="200.0" width="2.4" height="10.0" fill="#1E90FF"/>
<line x1="677.94" y1="197.0" x2="677.94" y2="218.0" stroke="#FF0000" stroke-width="1"/>
<rect x="676.74" y="202.0" width="2.4" height="8.0" fill="#FF0000"/>
<line x1="681.25" y1="208.0" x2="681.25" y2="217.0" stroke="#FF0000" stroke-width="1"/>
<rect x="680.04" y="211.0" width="2.4" height="5.0" fill="#FF0000"/>
<line x1="684.55" y1="211.0" x2="684.55" y2="218.0" stroke="#1E90FF" stroke-width="1"/>
<rect x="683.35" y="212.0" width="2.4" height="5.0" fill="#1E90FF"/>
<line x1="687.86" y1="211.0" x2="687.86" y2="219.0" stroke="#FF0000" stroke-width="1"/>
<rect x="686.66" y="212.0" width="2.4" height="7.0" fill="#FF0000"/>
<line x1="691.17" y1="205.0" x2="691.17" y2="219.0" stroke="#1E90FF" stroke-width="1"/>
<rect x="689.97" y="215.0" width="2.4" height="4.0" fill="#1E90FF"/>
<line x1="694.48" y1="214.0" x2="694.48" y2="223.0" stroke="#FF0000" stroke-width="1"/>
<rect x="693.28" y="215.0" width="2.4" height="8.0" fill="#FF0000"/>
<line x1="697.79" y1="210.0" x2="697.79" y2="223.0" stroke="#1E90FF" stroke-width="1"/>
<rect x="696.59" y="212.0" width="2.4" height="9.0" fill="#1E90FF"/>
<line x1="701.10" y1="210.0" x2="701.10" y2="220.0" stroke="#FF0000" stroke-width="1"/>
<rect x="699.90" y="214.0" width="2.4" height="5.0" fill="#FF0000"/>
<line x1="704.41" y1="216.0" x2="704.41" y2="223.0" stroke="#FF0000" stroke-width="1"/>
<rect x="703.21" y="219.0" width="2.4" height="3.0" fill="#FF0000"/>
<line x1="707.72" y1="220.0" x2="707.72" y2="234.0" stroke="#FF0000" stroke-width="1"/>
<rect x="706.52" y="221.0" width="2.4" height="7.0" fill="#FF0000"/>
<line x1="711.03" y1="220.0" x2="711.03" y2="243.0" stroke="#1E90FF" stroke-width="1"/>
<rect x="709.83" y="222.0" width="2.4" height="8.0" fill="#1E90FF"/>
<line x1="714.34" y1="214.0" x2="714.34" y2="232.0" stroke="#FF0000" stroke-width="1"/>
<rect x="713.13" y="219.0" width="2.4" height="12.0" fill="#FF0000"/>
<line x1="717.64" y1="221.0" x2="717.64" y2="243.0" stroke="#1E90FF" stroke-width="1"/>
<rect x="716.44" y="222.0" width="2.4" height="10.0" fill="#1E90FF"/>
<line x1="720.95" y1="215.0" x2="720.95" y2="224.0" stroke="#1E90FF" stroke-width="1"/>
<rect x="719.75" y="218.0" width="2.4" height="5.0" fill="#1E90FF"/>
<line x1="724.26" y1="215.0" x2="724.26" y2="223.0" stroke="#FF0000" stroke-width="1"/>
<rect x="723.06" y="217.0" width="2.4" height="3.0" fill="#FF0000"/>
<line x1="727.57" y1="217.0" x2="727.57" y2="223.0" stroke="#FF0000" stroke-width="1"/>
<rect x="726.37" y="218.0" width="2.4" height="4.0" fill="#FF0000"/>
<line x1="730.88" y1="218.0" x2="730.88" y2="224.0" stroke="#1E90FF" stroke-width="1"/>
<rect x="729.68" y="219.0" width="2.4" height="3.0" fill="#1E90FF"/>
<line x1="734.19" y1="215.0" x2="734.19" y2="224.0" stroke="#FF0000" stroke-width="1"/>
<rect x="732.99" y="219.0" width="2.4" height="3.0" fill="#FF0000"/>
<line x1="737.50" y1="218.0" x2="737.50" y2="226.0" stroke="#1E90FF" stroke-width="1"/>
<rect x="736.30" y="220.0" width="2.4" height="3.0" fill="#1E90FF"/>
<line x1="740.81" y1="218.0" x2="740.81" y2="225.0" stroke="#1E90FF" stroke-width="1"/>
<rect x="739.61" y="220.0" width="2.4" height="3.0" fill="#1E90FF"/>
<line x1="744.12" y1="219.0" x2="744.12" y2="224.0" stroke="#1E90FF" stroke-width="1"/>
<rect x="742.92" y="220.0" width="2.4" height="2.0" fill="#1E90FF"/>
<line x1="747.43" y1="220.0" x2="747.43" y2="222.0" stroke="#FF0000" stroke-width="1"/>
<rect x="746.23" y="220.0" width="2.4" height="2.0" fill="#FF0000"/>
<line x1="750.73" y1="217.0" x2="750.73" y2="223.0" stroke="#1E90FF" stroke-width="1"/>
<rect x="749.53" y="219.0" width="2.4" height="2.0" fill="#1E90FF"/>
<line x1="754.04" y1="210.0" x2="754.04" y2="220.0" stroke="#1E90FF" stroke-width="1"/>
<rect x="752.84" y="211.0" width="2.4" height="8.0" fill="#1E90FF"/>
<line x1="757.35" y1="205.0" x2="757.35" y2="215.0" stroke="#1E90FF" stroke-width="1"/>
<rect x="756.15" y="206.0" width="2.4" height="8.0" fill="#1E90FF"/>
<line x1="760.66" y1="198.0" x2="760.66" y2="210.0" stroke="#1E90FF" stroke-width="1"/>
<rect x="759.46" y="200.0" width="2.4" height="9.0" fill="#1E90FF"/>
<line x1="763.97" y1="181.0" x2="763.97" y2="204.0" stroke="#1E90FF" stroke-width="1"/>
<rect x="762.77" y="186.0" width="2.4" height="17.0" fill="#1E90FF"/>
<line x1="767.28" y1="184.0" x2="767.28" y2="195.0" stroke="#FF0000" stroke-width="1"/>
<rect x="766.08" y="185.0" width="2.4" height="2.0" fill="#FF0000"/>
<line x1="770.59" y1="171.0" x2="770.59" y2="193.0" stroke="#1E90FF" stroke-width="1"/>
<rect x="769.39" y="177.0" width="2.4" height="9.0" fill="#1E90FF"/>
<line x1="773.90" y1="108.0" x2="773.90" y2="180.0" stroke="#1E90FF" stroke-width="1"/>
<rect x="772.70" y="117.0" width="2.4" height="61.0" fill="#1E90FF"/>
<line x1="777.21" y1="91.0" x2="777.21" y2="128.0" stroke="#FF0000" stroke-width="1"/>
<rect x="776.01" y="115.0" width="2.4" height="4.0" fill="#FF0000"/>
<line x1="780.51" y1="89.0" x2="780.51" y2="119.0" stroke="#1E90FF" stroke-width="1"/>
<rect x="779.31" y="100.0" width="2.4" height="18.0" fill="#1E90FF"/>
<line x1="783.82" y1="65.0" x2="783.82" y2="100.0" stroke="#1E90FF" stroke-width="1"/>
<rect x="782.62" y="73.0" width="2.4" height="26.0" fill="#1E90FF"/>
<line x1="787.13" y1="50.0" x2="787.13" y2="73.0" stroke="#1E90FF" stroke-width="1"/>
<rect x="785.93" y="65.0" width="2.4" height="8.0" fill="#1E90FF"/>
<line x1="790.44" y1="31.0" x2="790.44" y2="66.0" stroke="#1E90FF" stroke-width="1"/>
<rect x="789.24" y="40.0" width="2.4" height="25.0" fill="#1E90FF"/>
<line x1="793.75" y1="26.0" x2="793.75" y2="52.0" stroke="#1E90FF" stroke-width="1"/>
<rect x="792.55" y="33.0" width="2.4" height="7.0" fill="#1E90FF"/>
<line x1="797.06" y1="24.0" x2="797.06" y2="42.0" stroke="#1E90FF" stroke-width="1"/>
<rect x="795.86" y="33.0" width="2.4" height="2.0" fill="#1E90FF"/>
<line x1="800.37" y1="31.0" x2="800.37" y2="61.0" stroke="#FF0000" stroke-width="1"/>
<rect x="799.17" y="31.0" width="2.4" height="29.0" fill="#FF0000"/>
<line x1="803.68" y1="40.0" x2="803.68" y2="62.0" stroke="#1E90FF" stroke-width="1"/>
<rect x="802.48" y="46.0" width="2.4" height="15.0" fill="#1E90FF"/>
<line x1="806.99" y1="40.0" x2="806.99" y2="54.0" stroke="#FF0000" stroke-width="1"/>
<rect x="805.79" y="47.0" width="2.4" height="7.0" fill="#FF0000"/>
<line x1="810.30" y1="40.0" x2="810.30" y2="57.0" stroke="#1E90FF" stroke-width="1"/>
<rect x="809.10" y="44.0" width="2.4" height="12.0" fill="#1E90FF"/>
<line x1="813.61" y1="40.0" x2="813.61" y2="54.0" stroke="#FF0000" stroke-width="1"/>
<rect x="812.40" y="42.0" width="2.4" height="8.0" fill="#FF0000"/>
<line x1="816.91" y1="47.0" x2="816.91" y2="62.0" stroke="#FF0000" stroke-width="1"/>
<rect x="815.71" y="50.0" width="2.4" height="9.0" fill="#FF0000"/>
<line x1="820.22" y1="50.0" x2="820.22" y2="64.0" stroke="#FF0000" stroke-width="1"/>
<rect x="819.02" y="57.0" width="2.4" height="2.0" fill="#FF0000"/>
<line x1="823.53" y1="52.0" x2="823.53" y2="64.0" stroke="#1E90FF" stroke-width="1"/>
<rect x="822.33" y="60.0" width="2.4" height="1.0" fill="#1E90FF"/>
<line x1="826.84" y1="57.0" x2="826.84" y2="64.0" stroke="#1E90FF" stroke-width="1"/>
<rect x="825.64" y="57.0" width="2.4" height="3.0" fill="#1E90FF"/>
<line x1="830.15" y1="49.0" x2="830.15" y2="61.0" stroke="#1E90FF" stroke-width="1"/>
<rect x="828.95" y="53.0" width="2.4" height="7.0" fill="#1E90FF"/>
<line x1="833.46" y1="50.0" x2="833.46" y2="64.0" stroke="#FF0000" stroke-width="1"/>
<rect x="832.26" y="54.0" width="2.4" height="5.0" fill="#FF0000"/>
<line x1="836.77" y1="57.0" x2="836.77" y2="68.0" stroke="#FF0000" stroke-width="1"/>
<rect x="835.57" y="60.0" width="2.4" height="4.0" fill="#FF0000"/>
<line x1="840.08" y1="49.0" x2="840.08" y2="68.0" stroke="#1E90FF" stroke-width="1"/>
<rect x="838.88" y="51.0" width="2.4" height="11.0" fill="#1E90FF"/>
<line x1="843.39" y1="47.0" x2="843.39" y2="57.0" stroke="#1E90FF" stroke-width="1"/>
<rect x="842.19" y="53.0" width="2.4" height="1.0" fill="#1E90FF"/>
<line x1="846.70" y1="47.0" x2="846.70" y2="59.0" stroke="#FF0000" stroke-width="1"/>
<rect x="845.50" y="51.0" width="2.4" height="8.0" fill="#FF0000"/>
<line x1="850.00" y1="40.0" x2="850.00" y2="64.0" stroke="#1E90FF" stroke-width="1"/>
<rect x="848.80" y="56.0" width="2.4" height="3.0" fill="#1E90FF"/>
<line x1="853.31" y1="40.0" x2="853.31" y2="64.0" stroke="#1E90FF" stroke-width="1"/>
<rect x="852.11" y="53.0" width="2.4" height="1.0" fill="#1E90FF"/>
<line x1="856.62" y1="49.0" x2="856.62" y2="73.0" stroke="#FF0000" stroke-width="1"/>
<rect x="855.42" y="51.0" width="2.4" height="15.0" fill="#FF0000"/>
<line x1="859.93" y1="56.0" x2="859.93" y2="75.0" stroke="#1E90FF" stroke-width="1"/>
<rect x="858.73" y="64.0" width="2.4" height="4.0" fill="#1E90FF"/>
<line x1="863.24" y1="61.0" x2="863.24" y2="88.0" stroke="#FF0000" stroke-width="1"/>
<rect x="862.04" y="61.0" width="2.4" height="18.0" fill="#FF0000"/>
</g>
<polyline points="3,367.6 23,367.4 40.5,366 54,364.2 65,363.5 77,361.9 90,360.9 108,359.4 135,358.6 148,357.2 164,355.4 172,354.2 182,352.5 194.6,350.4 201.6,349.1 210,347.3 228,343.9 246,340.3 264,337.6 276.6,335.8 291,333.1 300,330 318,324.8 333.3,322.6 349.5,319.4 363,317.6 381,316.3 399,316 408,314.8 447.6,314.6 453,315.3 464.7,315.3 470,314.6 480,313.2 508.8,307.5 534,302.6 570,293.4 588,289.6 615,284.7 634.8,281.5 660,277.3 678,273.9 696,272.1 714,270.3 732,268.5 744,267.2 757.8,266.4 768,263.4 777,261 786,256.8 798,251.4 810,246.6 823.2,240 837.5,233.5 850.5,228 862.2,224.8" fill="none" stroke="#FF0000" stroke-width="2.6" stroke-linejoin="round" stroke-linecap="round" clip-path="url(#cm)"/>
<g clip-path="url(#cd)">
<rect x="1.90" y="498.0" width="2" height="4.00" fill="#606060"/>
<rect x="5.21" y="498.0" width="2" height="3.00" fill="#606060"/>
<rect x="8.52" y="498.0" width="2" height="2.00" fill="#606060"/>
<rect x="11.83" y="494.0" width="2" height="4.00" fill="#606060"/>
<rect x="15.14" y="491.0" width="2" height="7.00" fill="#606060"/>
<rect x="18.45" y="483.0" width="2" height="15.00" fill="#606060"/>
<rect x="21.75" y="477.0" width="2" height="21.00" fill="#606060"/>
<rect x="25.06" y="476.5" width="2" height="21.50" fill="#606060"/>
<rect x="28.37" y="476.0" width="2" height="22.00" fill="#606060"/>
<rect x="31.68" y="476.0" width="2" height="22.00" fill="#606060"/>
<rect x="34.99" y="476.0" width="2" height="22.00" fill="#606060"/>
<rect x="38.30" y="477.0" width="2" height="21.00" fill="#606060"/>
<rect x="41.61" y="474.0" width="2" height="24.00" fill="#606060"/>
<rect x="44.92" y="474.0" width="2" height="24.00" fill="#606060"/>
<rect x="48.23" y="476.0" width="2" height="22.00" fill="#606060"/>
<rect x="51.54" y="479.0" width="2" height="19.00" fill="#606060"/>
<rect x="54.84" y="480.0" width="2" height="18.00" fill="#606060"/>
<rect x="58.15" y="481.0" width="2" height="17.00" fill="#606060"/>
<rect x="61.46" y="482.0" width="2" height="16.00" fill="#606060"/>
<rect x="64.77" y="483.0" width="2" height="15.00" fill="#606060"/>
<rect x="68.08" y="486.0" width="2" height="12.00" fill="#606060"/>
<rect x="71.39" y="485.0" width="2" height="13.00" fill="#606060"/>
<rect x="74.70" y="484.0" width="2" height="14.00" fill="#606060"/>
<rect x="78.01" y="483.0" width="2" height="15.00" fill="#606060"/>
<rect x="81.32" y="483.0" width="2" height="15.00" fill="#606060"/>
<rect x="84.63" y="483.0" width="2" height="15.00" fill="#606060"/>
<rect x="87.93" y="484.0" width="2" height="14.00" fill="#606060"/>
<rect x="91.24" y="489.0" width="2" height="9.00" fill="#606060"/>
<rect x="94.55" y="494.0" width="2" height="4.00" fill="#606060"/>
<rect x="97.86" y="495.0" width="2" height="3.00" fill="#606060"/>
<rect x="101.17" y="498.0" width="2" height="6.00" fill="#606060"/>
<rect x="104.48" y="498.0" width="2" height="9.00" fill="#606060"/>
<rect x="107.79" y="498.0" width="2" height="12.00" fill="#606060"/>
<rect x="111.10" y="498.0" width="2" height="15.00" fill="#606060"/>
<rect x="114.41" y="498.0" width="2" height="19.00" fill="#606060"/>
<rect x="117.72" y="498.0" width="2" height="25.00" fill="#606060"/>
<rect x="121.02" y="498.0" width="2" height="32.00" fill="#606060"/>
<rect x="124.33" y="498.0" width="2" height="35.00" fill="#606060"/>
<rect x="127.64" y="498.0" width="2" height="37.00" fill="#606060"/>
<rect x="130.95" y="498.0" width="2" height="36.00" fill="#606060"/>
<rect x="134.26" y="498.0" width="2" height="30.00" fill="#606060"/>
<rect x="137.57" y="498.0" width="2" height="26.00" fill="#606060"/>
<rect x="140.88" y="498.0" width="2" height="19.00" fill="#606060"/>
<rect x="144.19" y="498.0" width="2" height="17.00" fill="#606060"/>
<rect x="147.50" y="498.0" width="2" height="18.00" fill="#606060"/>
<rect x="150.81" y="498.0" width="2" height="14.00" fill="#606060"/>
<rect x="154.11" y="498.0" width="2" height="13.00" fill="#606060"/>
<rect x="157.42" y="498.0" width="2" height="11.00" fill="#606060"/>
<rect x="160.73" y="498.0" width="2" height="16.00" fill="#606060"/>
<rect x="164.04" y="498.0" width="2" height="11.00" fill="#606060"/>
<rect x="167.35" y="498.0" width="2" height="7.00" fill="#606060"/>
<rect x="170.66" y="498.0" width="2" height="5.00" fill="#606060"/>
<rect x="173.97" y="498.0" width="2" height="5.00" fill="#606060"/>
<rect x="177.28" y="498.0" width="2" height="4.00" fill="#606060"/>
<rect x="180.59" y="498.0" width="2" height="3.00" fill="#606060"/>
<rect x="183.90" y="498.0" width="2" height="2.00" fill="#606060"/>
<rect x="187.20" y="497.0" width="2" height="1.00" fill="#606060"/>
<rect x="190.51" y="495.0" width="2" height="3.00" fill="#606060"/>
<rect x="193.82" y="493.0" width="2" height="5.00" fill="#606060"/>
<rect x="197.13" y="491.0" width="2" height="7.00" fill="#606060"/>
<rect x="200.44" y="491.0" width="2" height="7.00" fill="#606060"/>
<rect x="203.75" y="491.0" width="2" height="7.00" fill="#606060"/>
<rect x="207.06" y="491.0" width="2" height="7.00" fill="#606060"/>
<rect x="210.37" y="490.0" width="2" height="8.00" fill="#606060"/>
<rect x="213.68" y="490.0" width="2" height="8.00" fill="#606060"/>
<rect x="216.99" y="491.0" width="2" height="7.00" fill="#606060"/>
<rect x="220.29" y="492.0" width="2" height="6.00" fill="#606060"/>
<rect x="223.60" y="493.0" width="2" height="5.00" fill="#606060"/>
<rect x="226.91" y="491.0" width="2" height="7.00" fill="#606060"/>
<rect x="230.22" y="489.0" width="2" height="9.00" fill="#606060"/>
<rect x="233.53" y="487.0" width="2" height="11.00" fill="#606060"/>
<rect x="236.84" y="489.0" width="2" height="9.00" fill="#606060"/>
<rect x="240.15" y="489.0" width="2" height="9.00" fill="#606060"/>
<rect x="243.46" y="486.0" width="2" height="12.00" fill="#606060"/>
<rect x="246.77" y="488.0" width="2" height="10.00" fill="#606060"/>
<rect x="250.08" y="491.0" width="2" height="7.00" fill="#606060"/>
<rect x="253.38" y="496.0" width="2" height="2.00" fill="#606060"/>
<rect x="256.69" y="498.0" width="2" height="0.60" fill="#606060"/>
<rect x="260.00" y="498.0" width="2" height="2.00" fill="#606060"/>
<rect x="263.31" y="498.0" width="2" height="2.00" fill="#606060"/>
<rect x="266.62" y="498.0" width="2" height="3.00" fill="#606060"/>
<rect x="269.93" y="498.0" width="2" height="5.00" fill="#606060"/>
<rect x="273.24" y="498.0" width="2" height="6.00" fill="#606060"/>
<rect x="276.55" y="498.0" width="2" height="9.00" fill="#606060"/>
<rect x="279.86" y="498.0" width="2" height="11.00" fill="#606060"/>
<rect x="283.16" y="498.0" width="2" height="11.00" fill="#606060"/>
<rect x="286.47" y="498.0" width="2" height="11.00" fill="#606060"/>
<rect x="289.78" y="498.0" width="2" height="12.00" fill="#606060"/>
<rect x="293.09" y="498.0" width="2" height="13.00" fill="#606060"/>
<rect x="296.40" y="497.5" width="2" height="0.60" fill="#606060"/>
<rect x="299.71" y="482.0" width="2" height="16.00" fill="#606060"/>
<rect x="303.02" y="472.0" width="2" height="26.00" fill="#606060"/>
<rect x="306.33" y="464.0" width="2" height="34.00" fill="#606060"/>
<rect x="309.64" y="463.0" width="2" height="35.00" fill="#606060"/>
<rect x="312.95" y="462.5" width="2" height="35.50" fill="#606060"/>
<rect x="316.25" y="462.0" width="2" height="36.00" fill="#606060"/>
<rect x="319.56" y="468.0" width="2" height="30.00" fill="#606060"/>
<rect x="322.87" y="481.0" width="2" height="17.00" fill="#606060"/>
<rect x="326.18" y="488.0" width="2" height="10.00" fill="#606060"/>
<rect x="329.49" y="496.0" width="2" height="2.00" fill="#606060"/>
<rect x="332.80" y="498.0" width="2" height="2.00" fill="#606060"/>
<rect x="336.11" y="498.0" width="2" height="2.00" fill="#606060"/>
<rect x="339.42" y="498.0" width="2" height="2.00" fill="#606060"/>
<rect x="342.73" y="498.0" width="2" height="4.00" fill="#606060"/>
<rect x="346.04" y="498.0" width="2" height="4.00" fill="#606060"/>
<rect x="349.34" y="498.0" width="2" height="3.00" fill="#606060"/>
<rect x="352.65" y="498.0" width="2" height="2.70" fill="#606060"/>
<rect x="355.96" y="498.0" width="2" height="2.20" fill="#606060"/>
<rect x="359.27" y="498.0" width="2" height="1.80" fill="#606060"/>
<rect x="362.58" y="498.0" width="2" height="1.00" fill="#606060"/>
<rect x="365.89" y="497.5" width="2" height="0.60" fill="#606060"/>
<rect x="369.20" y="497.0" width="2" height="1.00" fill="#606060"/>
<rect x="372.51" y="496.6" width="2" height="1.40" fill="#606060"/>
<rect x="375.82" y="491.0" width="2" height="7.00" fill="#606060"/>
<rect x="379.13" y="487.0" width="2" height="11.00" fill="#606060"/>
<rect x="382.44" y="494.0" width="2" height="4.00" fill="#606060"/>
<rect x="385.74" y="496.6" width="2" height="1.40" fill="#606060"/>
<rect x="389.05" y="498.0" width="2" height="2.60" fill="#606060"/>
<rect x="392.36" y="498.0" width="2" height="3.60" fill="#606060"/>
<rect x="395.67" y="493.0" width="2" height="5.00" fill="#606060"/>
<rect x="398.98" y="489.0" width="2" height="9.00" fill="#606060"/>
<rect x="402.29" y="482.0" width="2" height="16.00" fill="#606060"/>
<rect x="405.60" y="483.0" width="2" height="15.00" fill="#606060"/>
<rect x="408.91" y="487.6" width="2" height="10.40" fill="#606060"/>
<rect x="412.22" y="488.0" width="2" height="10.00" fill="#606060"/>
<rect x="415.52" y="486.7" width="2" height="11.30" fill="#606060"/>
<rect x="418.83" y="488.0" width="2" height="10.00" fill="#606060"/>
<rect x="422.14" y="488.5" width="2" height="9.50" fill="#606060"/>
<rect x="425.45" y="489.0" width="2" height="9.00" fill="#606060"/>
<rect x="428.76" y="489.4" width="2" height="8.60" fill="#606060"/>
<rect x="432.07" y="491.0" width="2" height="7.00" fill="#606060"/>
<rect x="435.38" y="492.0" width="2" height="6.00" fill="#606060"/>
<rect x="438.69" y="493.0" width="2" height="5.00" fill="#606060"/>
<rect x="442.00" y="492.6" width="2" height="5.40" fill="#606060"/>
<rect x="445.31" y="492.0" width="2" height="6.00" fill="#606060"/>
<rect x="448.62" y="493.0" width="2" height="5.00" fill="#606060"/>
<rect x="451.92" y="498.0" width="2" height="0.60" fill="#606060"/>
<rect x="455.23" y="498.0" width="2" height="4.00" fill="#606060"/>
<rect x="458.54" y="498.0" width="2" height="5.80" fill="#606060"/>
<rect x="461.85" y="498.0" width="2" height="7.20" fill="#606060"/>
<rect x="465.16" y="498.0" width="2" height="5.00" fill="#606060"/>
<rect x="468.47" y="498.0" width="2" height="2.70" fill="#606060"/>
<rect x="471.78" y="498.0" width="2" height="0.60" fill="#606060"/>
<rect x="475.09" y="487.0" width="2" height="11.00" fill="#606060"/>
<rect x="478.40" y="479.0" width="2" height="19.00" fill="#606060"/>
<rect x="481.70" y="463.0" width="2" height="35.00" fill="#606060"/>
<rect x="485.01" y="453.4" width="2" height="44.60" fill="#606060"/>
<rect x="488.32" y="452.5" width="2" height="45.50" fill="#606060"/>
<rect x="491.63" y="453.4" width="2" height="44.60" fill="#606060"/>
<rect x="494.94" y="449.4" width="2" height="48.60" fill="#606060"/>
<rect x="498.25" y="449.4" width="2" height="48.60" fill="#606060"/>
<rect x="501.56" y="453.4" width="2" height="44.60" fill="#606060"/>
<rect x="504.87" y="457.0" width="2" height="41.00" fill="#606060"/>
<rect x="508.18" y="459.0" width="2" height="39.00" fill="#606060"/>
<rect x="511.49" y="461.0" width="2" height="37.00" fill="#606060"/>
<rect x="514.79" y="462.4" width="2" height="35.60" fill="#606060"/>
<rect x="518.10" y="464.2" width="2" height="33.80" fill="#606060"/>
<rect x="521.41" y="465.1" width="2" height="32.90" fill="#606060"/>
<rect x="524.72" y="466.9" width="2" height="31.10" fill="#606060"/>
<rect x="528.03" y="468.3" width="2" height="29.70" fill="#606060"/>
<rect x="531.34" y="470.0" width="2" height="28.00" fill="#606060"/>
<rect x="534.65" y="469.2" width="2" height="28.80" fill="#606060"/>
<rect x="537.96" y="471.0" width="2" height="27.00" fill="#606060"/>
<rect x="541.27" y="466.0" width="2" height="32.00" fill="#606060"/>
<rect x="544.58" y="459.2" width="2" height="38.80" fill="#606060"/>
<rect x="547.88" y="458.4" width="2" height="39.60" fill="#606060"/>
<rect x="551.19" y="459.2" width="2" height="38.80" fill="#606060"/>
<rect x="554.50" y="466.0" width="2" height="32.00" fill="#606060"/>
<rect x="557.81" y="471.8" width="2" height="26.20" fill="#606060"/>
<rect x="561.12" y="471.8" width="2" height="26.20" fill="#606060"/>
<rect x="564.43" y="471.0" width="2" height="27.00" fill="#606060"/>
<rect x="567.74" y="471.4" width="2" height="26.60" fill="#606060"/>
<rect x="571.05" y="472.3" width="2" height="25.70" fill="#606060"/>
<rect x="574.36" y="474.1" width="2" height="23.90" fill="#606060"/>
<rect x="577.67" y="478.2" width="2" height="19.80" fill="#606060"/>
<rect x="580.98" y="479.0" width="2" height="19.00" fill="#606060"/>
<rect x="584.28" y="481.8" width="2" height="16.20" fill="#606060"/>
<rect x="587.59" y="483.1" width="2" height="14.90" fill="#606060"/>
<rect x="590.90" y="482.6" width="2" height="15.40" fill="#606060"/>
<rect x="594.21" y="484.9" width="2" height="13.10" fill="#606060"/>
<rect x="597.52" y="489.0" width="2" height="9.00" fill="#606060"/>
<rect x="600.83" y="490.8" width="2" height="7.20" fill="#606060"/>
<rect x="604.14" y="491.6" width="2" height="6.40" fill="#606060"/>
<rect x="607.45" y="492.6" width="2" height="5.40" fill="#606060"/>
<rect x="610.76" y="493.9" width="2" height="4.10" fill="#606060"/>
<rect x="614.07" y="493.9" width="2" height="4.10" fill="#606060"/>
<rect x="617.37" y="491.6" width="2" height="6.40" fill="#606060"/>
<rect x="620.68" y="492.6" width="2" height="5.40" fill="#606060"/>
<rect x="623.99" y="498.0" width="2" height="0.60" fill="#606060"/>
<rect x="627.30" y="498.0" width="2" height="7.60" fill="#606060"/>
<rect x="630.61" y="498.0" width="2" height="10.30" fill="#606060"/>
<rect x="633.92" y="498.0" width="2" height="17.50" fill="#606060"/>
<rect x="637.23" y="498.0" width="2" height="26.50" fill="#606060"/>
<rect x="640.54" y="498.0" width="2" height="20.20" fill="#606060"/>
<rect x="643.85" y="498.0" width="2" height="17.50" fill="#606060"/>
<rect x="647.15" y="498.0" width="2" height="13.40" fill="#606060"/>
<rect x="650.46" y="498.0" width="2" height="9.00" fill="#606060"/>
<rect x="653.77" y="498.0" width="2" height="7.60" fill="#606060"/>
<rect x="657.08" y="498.0" width="2" height="5.40" fill="#606060"/>
<rect x="660.39" y="498.0" width="2" height="4.00" fill="#606060"/>
<rect x="663.70" y="498.0" width="2" height="2.20" fill="#606060"/>
<rect x="667.01" y="498.0" width="2" height="0.80" fill="#606060"/>
<rect x="670.32" y="498.0" width="2" height="0.60" fill="#606060"/>
<rect x="673.63" y="497.0" width="2" height="1.00" fill="#606060"/>
<rect x="676.94" y="497.0" width="2" height="1.00" fill="#606060"/>
<rect x="680.25" y="498.0" width="2" height="0.60" fill="#606060"/>
<rect x="683.55" y="498.0" width="2" height="1.30" fill="#606060"/>
<rect x="686.86" y="498.0" width="2" height="2.20" fill="#606060"/>
<rect x="690.17" y="498.0" width="2" height="2.70" fill="#606060"/>
<rect x="693.48" y="498.0" width="2" height="4.40" fill="#606060"/>
<rect x="696.79" y="498.0" width="2" height="4.00" fill="#606060"/>
<rect x="700.10" y="498.0" width="2" height="4.40" fill="#606060"/>
<rect x="703.41" y="498.0" width="2" height="5.20" fill="#606060"/>
<rect x="706.72" y="498.0" width="2" height="7.20" fill="#606060"/>
<rect x="710.03" y="498.0" width="2" height="7.20" fill="#606060"/>
<rect x="713.34" y="498.0" width="2" height="8.50" fill="#606060"/>
<rect x="716.64" y="498.0" width="2" height="7.70" fill="#606060"/>
<rect x="719.95" y="498.0" width="2" height="6.20" fill="#606060"/>
<rect x="723.26" y="498.0" width="2" height="5.70" fill="#606060"/>
<rect x="726.57" y="498.0" width="2" height="5.70" fill="#606060"/>
<rect x="729.88" y="498.0" width="2" height="5.20" fill="#606060"/>
<rect x="733.19" y="498.0" width="2" height="4.70" fill="#606060"/>
<rect x="736.50" y="498.0" width="2" height="4.70" fill="#606060"/>
<rect x="739.81" y="498.0" width="2" height="5.00" fill="#606060"/>
<rect x="743.12" y="498.0" width="2" height="4.40" fill="#606060"/>
<rect x="746.43" y="498.0" width="2" height="3.40" fill="#606060"/>
<rect x="749.73" y="498.0" width="2" height="3.40" fill="#606060"/>
<rect x="753.04" y="498.0" width="2" height="0.70" fill="#606060"/>
<rect x="756.35" y="495.5" width="2" height="2.50" fill="#606060"/>
<rect x="759.66" y="493.2" width="2" height="4.80" fill="#606060"/>
<rect x="762.97" y="487.3" width="2" height="10.70" fill="#606060"/>
<rect x="766.28" y="485.0" width="2" height="13.00" fill="#606060"/>
<rect x="769.59" y="481.0" width="2" height="17.00" fill="#606060"/>
<rect x="772.90" y="463.9" width="2" height="34.10" fill="#606060"/>
<rect x="776.21" y="454.0" width="2" height="44.00" fill="#606060"/>
<rect x="779.51" y="445.0" width="2" height="53.00" fill="#606060"/>
<rect x="782.82" y="433.7" width="2" height="64.30" fill="#606060"/>
<rect x="786.13" y="425.2" width="2" height="72.80" fill="#606060"/>
<rect x="789.44" y="415.3" width="2" height="82.70" fill="#606060"/>
<rect x="792.75" y="409.9" width="2" height="88.10" fill="#606060"/>
<rect x="796.06" y="407.2" width="2" height="90.80" fill="#606060"/>
<rect x="799.37" y="414.0" width="2" height="84.00" fill="#606060"/>
<rect x="802.68" y="416.2" width="2" height="81.80" fill="#606060"/>
<rect x="805.99" y="421.2" width="2" height="76.80" fill="#606060"/>
<rect x="809.30" y="423.8" width="2" height="74.20" fill="#606060"/>
<rect x="812.61" y="427.9" width="2" height="70.10" fill="#606060"/>
<rect x="815.91" y="434.2" width="2" height="63.80" fill="#606060"/>
<rect x="819.22" y="439.2" width="2" height="58.80" fill="#606060"/>
<rect x="822.53" y="444.1" width="2" height="53.90" fill="#606060"/>
<rect x="825.84" y="447.7" width="2" height="50.30" fill="#606060"/>
<rect x="829.15" y="449.0" width="2" height="49.00" fill="#606060"/>
<rect x="832.46" y="453.5" width="2" height="44.50" fill="#606060"/>
<rect x="835.77" y="457.6" width="2" height="40.40" fill="#606060"/>
<rect x="839.08" y="457.6" width="2" height="40.40" fill="#606060"/>
<rect x="842.39" y="459.0" width="2" height="39.00" fill="#606060"/>
<rect x="845.70" y="462.1" width="2" height="35.90" fill="#606060"/>
<rect x="849.00" y="463.9" width="2" height="34.10" fill="#606060"/>
<rect x="852.31" y="465.2" width="2" height="32.80" fill="#606060"/>
<rect x="855.62" y="470.2" width="2" height="27.80" fill="#606060"/>
<rect x="858.93" y="472.4" width="2" height="25.60" fill="#606060"/>
<rect x="862.24" y="478.3" width="2" height="19.70" fill="#606060"/>
<polyline points="2.90,502.00 6.21,501.50 9.52,501.00 12.83,499.25 16.14,497.60 19.45,493.80 22.75,489.00 26.06,484.30 29.37,480.70 32.68,477.70 35.99,476.30 39.30,476.30 42.61,475.80 45.92,475.40 49.23,475.40 52.54,476.00 55.84,476.60 59.15,478.00 62.46,479.60 65.77,481.00 69.08,482.40 72.39,483.40 75.70,484.00 79.01,484.20 82.32,484.20 85.63,483.60 88.93,483.40 92.24,484.40 95.55,486.60 98.86,489.00 102.17,493.20 105.48,497.80 108.79,502.00 112.10,505.80 115.41,510.20 118.72,514.00 122.02,518.60 125.33,523.20 128.64,527.60 131.95,531.00 135.26,532.00 138.57,530.80 141.88,527.60 145.19,523.60 148.50,520.00 151.81,516.80 155.11,514.20 158.42,512.60 161.73,512.40 165.04,511.00 168.35,509.60 171.66,508.00 174.97,506.80 178.28,504.40 181.59,502.80 184.90,501.80 188.20,500.60 191.51,499.00 194.82,497.20 198.13,495.20 201.44,493.40 204.75,492.20 208.06,491.40 211.37,490.80 214.68,490.60 217.99,490.60 221.29,490.80 224.60,491.20 227.91,491.40 231.22,491.20 234.53,490.40 237.84,489.80 241.15,489.00 244.46,488.00 247.77,487.80 251.08,488.60 254.38,490.00 257.69,491.80 261.00,494.60 264.31,497.00 267.62,499.00 270.93,500.40 274.24,501.60 277.55,503.00 280.86,504.80 284.16,506.40 287.47,507.60 290.78,508.80 294.09,509.60 297.40,507.30 300.71,501.90 304.02,494.50 307.33,485.30 310.64,475.70 313.95,468.70 317.25,464.70 320.56,463.90 323.87,467.30 327.18,472.30 330.49,479.00 333.80,486.60 337.11,493.00 340.42,496.80 343.73,499.60 347.04,500.80 350.34,501.00 353.65,501.14 356.96,501.18 360.27,500.74 363.58,500.14 366.89,499.44 370.20,498.70 373.51,497.98 376.82,496.22 380.13,493.82 383.44,493.12 386.74,493.04 390.05,493.84 393.36,495.96 396.67,497.16 399.98,496.16 403.29,493.24 406.60,489.72 409.91,486.92 413.22,485.92 416.52,485.46 419.83,486.66 423.14,487.76 426.45,488.04 429.76,488.32 433.07,489.18 436.38,489.98 439.69,490.88 443.00,491.60 446.31,492.12 449.62,492.52 452.92,493.80 456.23,495.60 459.54,497.84 462.85,500.48 466.16,502.48 469.47,502.94 472.78,502.18 476.09,498.82 479.40,493.58 482.70,485.58 486.01,476.12 489.32,466.98 492.63,460.26 495.94,454.34 499.25,451.62 502.56,451.62 505.87,452.52 509.18,453.64 512.49,455.96 515.79,458.56 519.10,460.72 522.41,462.34 525.72,463.92 529.03,465.38 532.34,466.90 535.65,467.90 538.96,469.08 542.27,468.90 545.58,467.08 548.88,464.76 552.19,462.76 555.50,461.76 558.81,462.92 562.12,465.44 565.43,467.96 568.74,470.40 572.05,471.66 575.36,472.12 578.67,473.40 581.98,475.00 585.28,477.08 588.59,479.24 591.90,480.94 595.21,482.28 598.52,484.28 601.83,486.08 605.14,487.78 608.45,489.78 611.76,491.58 615.07,492.56 618.37,492.72 621.68,492.92 624.99,494.00 628.30,496.34 631.61,499.22 634.92,504.00 638.23,510.38 641.54,514.42 644.85,516.40 648.15,517.02 651.46,515.32 654.77,511.54 658.08,508.58 661.39,505.88 664.70,503.64 668.01,502.00 671.32,500.56 674.63,499.28 677.94,498.28 681.25,497.92 684.55,498.02 687.86,498.38 691.17,499.12 694.48,500.20 697.79,500.92 701.10,501.54 704.41,502.14 707.72,503.04 711.03,503.60 714.34,504.50 717.64,505.16 720.95,505.36 724.26,505.06 727.57,504.76 730.88,504.10 734.19,503.50 737.50,503.20 740.81,503.06 744.12,502.80 747.43,502.44 750.73,502.18 754.04,501.38 757.35,499.88 760.66,498.04 763.97,495.22 767.28,491.94 770.59,488.40 773.90,482.08 777.21,474.24 780.51,465.78 783.82,455.52 787.13,444.36 790.44,434.64 793.75,425.82 797.06,418.26 800.37,414.32 803.68,412.52 806.99,413.70 810.30,416.48 813.61,420.62 816.91,424.66 820.22,429.26 823.53,433.84 826.84,438.62 830.15,442.84 833.46,446.70 836.77,450.38 840.08,453.08 843.39,455.34 846.70,457.96 850.00,460.04 853.31,461.56 856.62,464.08 859.93,466.76 863.24,470.00" fill="none" stroke="#FF2020" stroke-width="1.1" stroke-dasharray="3 2.6"/>
</g>
<rect x="2.5" y="2.5" width="965" height="396" fill="none" stroke="#4A4A4A" stroke-width="1"/>
<line x1="2" y1="399.5" x2="968" y2="399.5" stroke="#8A8A8A" stroke-width="1"/>
<rect x="2.5" y="400.5" width="965" height="141" fill="none" stroke="#4A4A4A" stroke-width="1"/>
<line x1="3.5" y1="3" x2="3.5" y2="397" stroke="#fff" stroke-width="1"/>
<line x1="3" y1="3.5" x2="966" y2="3.5" stroke="#fff" stroke-width="1"/>
<line x1="966.5" y1="3" x2="966.5" y2="397" stroke="#fff" stroke-width="1"/>
<line x1="3.5" y1="401" x2="3.5" y2="540" stroke="#fff" stroke-width="1"/>
<line x1="3" y1="401.5" x2="966" y2="401.5" stroke="#fff" stroke-width="1"/>
<rect x="3" y="137.4" width="3.6" height="3.8" fill="#fff" stroke="#FF0000" stroke-width="1"/>
<rect x="963.2" y="137.4" width="3.4" height="3.8" fill="#fff" stroke="#FF0000" stroke-width="1"/>
<line x1="967" y1="26.0" x2="969.5" y2="26.0" stroke="#000" stroke-width="1"/>
<text x="972.3" y="28.7" textLength="22.7" lengthAdjust="spacingAndGlyphs">1.6995</text>
<line x1="967" y1="56.4" x2="969.5" y2="56.4" stroke="#000" stroke-width="1"/>
<text x="972.3" y="59.1" textLength="22.7" lengthAdjust="spacingAndGlyphs">1.6975</text>
<line x1="967" y1="86.8" x2="969.5" y2="86.8" stroke="#000" stroke-width="1"/>
<text x="972.3" y="89.5" textLength="22.7" lengthAdjust="spacingAndGlyphs">1.6955</text>
<line x1="967" y1="117.1" x2="969.5" y2="117.1" stroke="#000" stroke-width="1"/>
<text x="972.3" y="119.8" textLength="22.7" lengthAdjust="spacingAndGlyphs">1.6935</text>
<line x1="967" y1="147.5" x2="969.5" y2="147.5" stroke="#000" stroke-width="1"/>
<text x="972.3" y="150.2" textLength="22.7" lengthAdjust="spacingAndGlyphs">1.6915</text>
<line x1="967" y1="177.9" x2="969.5" y2="177.9" stroke="#000" stroke-width="1"/>
<text x="972.3" y="180.6" textLength="22.7" lengthAdjust="spacingAndGlyphs">1.6895</text>
<line x1="967" y1="208.2" x2="969.5" y2="208.2" stroke="#000" stroke-width="1"/>
<text x="972.3" y="210.9" textLength="22.7" lengthAdjust="spacingAndGlyphs">1.6875</text>
<line x1="967" y1="238.6" x2="969.5" y2="238.6" stroke="#000" stroke-width="1"/>
<text x="972.3" y="241.3" textLength="22.7" lengthAdjust="spacingAndGlyphs">1.6855</text>
<line x1="967" y1="269.0" x2="969.5" y2="269.0" stroke="#000" stroke-width="1"/>
<text x="972.3" y="271.7" textLength="22.7" lengthAdjust="spacingAndGlyphs">1.6835</text>
<line x1="967" y1="299.4" x2="969.5" y2="299.4" stroke="#000" stroke-width="1"/>
<text x="972.3" y="302.1" textLength="22.7" lengthAdjust="spacingAndGlyphs">1.6815</text>
<line x1="967" y1="329.8" x2="969.5" y2="329.8" stroke="#000" stroke-width="1"/>
<text x="972.3" y="332.4" textLength="22.7" lengthAdjust="spacingAndGlyphs">1.6795</text>
<line x1="967" y1="360.1" x2="969.5" y2="360.1" stroke="#000" stroke-width="1"/>
<text x="972.3" y="362.8" textLength="22.7" lengthAdjust="spacingAndGlyphs">1.6775</text>
<line x1="967" y1="390.5" x2="969.5" y2="390.5" stroke="#000" stroke-width="1"/>
<text x="972.3" y="393.2" textLength="22.7" lengthAdjust="spacingAndGlyphs">1.6755</text>
<rect x="969" y="14.0" width="29.2" height="9.2" fill="#FF0000"/>
<text class="w" x="972.3" y="21.4" textLength="22.7" lengthAdjust="spacingAndGlyphs">1.7000</text>
<rect x="969" y="134.0" width="29.2" height="9.2" fill="#FF0000"/>
<text class="w" x="972.3" y="141.4" textLength="22.7" lengthAdjust="spacingAndGlyphs">1.6920</text>
<rect x="969" y="218.3" width="29.2" height="9.2" fill="#FF0000"/>
<text class="w" x="972.3" y="225.7" textLength="22.7" lengthAdjust="spacingAndGlyphs">1.6865</text>
<rect x="969" y="331.8" width="29.2" height="9.2" fill="#FF0000"/>
<text class="w" x="972.3" y="339.2" textLength="22.7" lengthAdjust="spacingAndGlyphs">1.6790</text>
<rect x="969" y="377.8" width="29.2" height="9.2" fill="#FF0000"/>
<text class="w" x="972.3" y="385.2" textLength="22.7" lengthAdjust="spacingAndGlyphs">1.6760</text>
<rect x="969" y="74.0" width="29.2" height="9.2" fill="#000000"/>
<text class="w" x="972.3" y="81.4" textLength="22.7" lengthAdjust="spacingAndGlyphs">1.6960</text>
<text x="970" y="410" textLength="27" lengthAdjust="spacingAndGlyphs">0.00731</text>
<line x1="967" y1="498" x2="970" y2="498" stroke="#000"/>
<text x="971" y="501" textLength="17" lengthAdjust="spacingAndGlyphs">0.00</text>
<text x="969" y="539" textLength="31" lengthAdjust="spacingAndGlyphs">-0.00319</text>
<line x1="2.5" y1="541" x2="2.5" y2="544" stroke="#000" stroke-width="1"/>
<text x="1.9" y="551.8" textLength="41.7" lengthAdjust="spacingAndGlyphs">22 Apr 2014</text>
<line x1="55.4" y1="541" x2="55.4" y2="544" stroke="#000" stroke-width="1"/>
<text x="54.8" y="551.8" textLength="44" lengthAdjust="spacingAndGlyphs">22 Apr 21:00</text>
<line x1="108.4" y1="541" x2="108.4" y2="544" stroke="#000" stroke-width="1"/>
<text x="107.8" y="551.8" textLength="44" lengthAdjust="spacingAndGlyphs">23 Apr 13:00</text>
<line x1="161.3" y1="541" x2="161.3" y2="544" stroke="#000" stroke-width="1"/>
<text x="160.7" y="551.8" textLength="44" lengthAdjust="spacingAndGlyphs">24 Apr 14:00</text>
<line x1="214.3" y1="541" x2="214.3" y2="544" stroke="#000" stroke-width="1"/>
<text x="213.7" y="551.8" textLength="44" lengthAdjust="spacingAndGlyphs">25 Apr 06:00</text>
<line x1="267.2" y1="541" x2="267.2" y2="544" stroke="#000" stroke-width="1"/>
<text x="266.6" y="551.8" textLength="44" lengthAdjust="spacingAndGlyphs">25 Apr 22:00</text>
<line x1="320.2" y1="541" x2="320.2" y2="544" stroke="#000" stroke-width="1"/>
<text x="319.6" y="551.8" textLength="44" lengthAdjust="spacingAndGlyphs">28 Apr 15:00</text>
<line x1="373.1" y1="541" x2="373.1" y2="544" stroke="#000" stroke-width="1"/>
<text x="372.5" y="551.8" textLength="44" lengthAdjust="spacingAndGlyphs">29 Apr 07:00</text>
<line x1="426.1" y1="541" x2="426.1" y2="544" stroke="#000" stroke-width="1"/>
<text x="425.5" y="551.8" textLength="44" lengthAdjust="spacingAndGlyphs">29 Apr 23:00</text>
<line x1="479.0" y1="541" x2="479.0" y2="544" stroke="#000" stroke-width="1"/>
<text x="478.4" y="551.8" textLength="44" lengthAdjust="spacingAndGlyphs">30 Apr 15:00</text>
<line x1="531.9" y1="541" x2="531.9" y2="544" stroke="#000" stroke-width="1"/>
<text x="531.3" y="551.8" textLength="42.7" lengthAdjust="spacingAndGlyphs">1 May 07:00</text>
<line x1="584.9" y1="541" x2="584.9" y2="544" stroke="#000" stroke-width="1"/>
<text x="584.3" y="551.8" textLength="42.7" lengthAdjust="spacingAndGlyphs">1 May 23:00</text>
<line x1="637.8" y1="541" x2="637.8" y2="544" stroke="#000" stroke-width="1"/>
<text x="637.2" y="551.8" textLength="42.7" lengthAdjust="spacingAndGlyphs">2 May 15:00</text>
<line x1="690.8" y1="541" x2="690.8" y2="544" stroke="#000" stroke-width="1"/>
<text x="690.2" y="551.8" textLength="42.7" lengthAdjust="spacingAndGlyphs">5 May 08:00</text>
<line x1="743.7" y1="541" x2="743.7" y2="544" stroke="#000" stroke-width="1"/>
<text x="743.1" y="551.8" textLength="42.7" lengthAdjust="spacingAndGlyphs">6 May 00:00</text>
<line x1="796.7" y1="541" x2="796.7" y2="544" stroke="#000" stroke-width="1"/>
<text x="796.1" y="551.8" textLength="42.7" lengthAdjust="spacingAndGlyphs">6 May 16:00</text>
<line x1="849.6" y1="541" x2="849.6" y2="544" stroke="#000" stroke-width="1"/>
<text x="849.0" y="551.8" textLength="42.7" lengthAdjust="spacingAndGlyphs">7 May 08:00</text>
<path d="M5 7 L11 7 L8 10.8 Z" fill="#000"/>
<text x="15.3" y="11.7" textLength="44" lengthAdjust="spacingAndGlyphs">GBPUSD,H1</text>
<text x="64.8" y="11.7" textLength="100" lengthAdjust="spacingAndGlyphs">1.6971 1.6972 1.6954 1.6960</text>
<text x="6.3" y="410.6" textLength="109" lengthAdjust="spacingAndGlyphs">MACD(5,34,5) 0.00148 0.00212</text>
<text x="5.5" y="537.8" textLength="204.5" lengthAdjust="spacingAndGlyphs">MT4 TeleTrade, © 2001-2014, MetaQuotes Software Corp.</text>
</svg></body></html>
